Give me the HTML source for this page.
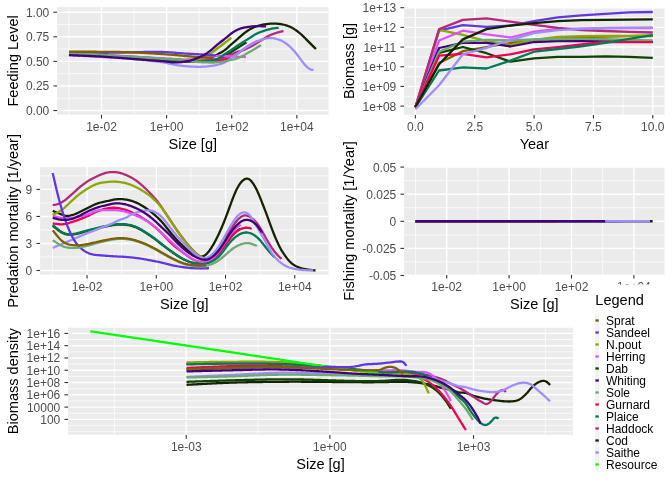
<!DOCTYPE html>
<html><head><meta charset="utf-8"><title>plot</title>
<style>
html,body{margin:0;padding:0;background:#fff;}
svg{display:block;will-change:transform;}
text{font-family:"Liberation Sans",sans-serif;}
.t{font-size:12px;fill:#4d4d4d;}
.a{font-size:14.55px;fill:#000;}
.l{font-size:12px;fill:#000;}
</style></head><body>
<svg width="672" height="480" viewBox="0 0 672 480">
<rect width="672" height="480" fill="#fff"/>
<clipPath id="c1"><rect x="57.1" y="7.1" width="271.4" height="107.6"/></clipPath>
<rect x="57.1" y="7.1" width="271.4" height="107.6" fill="#ebebeb"/>
<g stroke="#fff" fill="none" clip-path="url(#c1)"><path d="M68.93 7.1V114.7" stroke-width="0.71"/><path d="M134.05 7.1V114.7" stroke-width="0.71"/><path d="M199.17 7.1V114.7" stroke-width="0.71"/><path d="M264.29 7.1V114.7" stroke-width="0.71"/><path d="M329.41 7.1V114.7" stroke-width="0.71"/><path d="M57.1 98.25H328.5" stroke-width="0.71"/><path d="M57.1 73.66H328.5" stroke-width="0.71"/><path d="M57.1 49.08H328.5" stroke-width="0.71"/><path d="M57.1 24.49H328.5" stroke-width="0.71"/><path d="M101.49 7.1V114.7" stroke-width="1.42"/><path d="M166.61 7.1V114.7" stroke-width="1.42"/><path d="M231.73 7.1V114.7" stroke-width="1.42"/><path d="M296.85 7.1V114.7" stroke-width="1.42"/><path d="M57.1 110.54H328.5" stroke-width="1.42"/><path d="M57.1 85.96H328.5" stroke-width="1.42"/><path d="M57.1 61.37H328.5" stroke-width="1.42"/><path d="M57.1 36.79H328.5" stroke-width="1.42"/><path d="M57.1 12.2H328.5" stroke-width="1.42"/></g>
<path d="M101.49 114.9v3.67" stroke="#333" stroke-width="1.1"/>
<text x="101.49" y="131" text-anchor="middle" class="t">1e-02</text>
<path d="M166.61 114.9v3.67" stroke="#333" stroke-width="1.1"/>
<text x="166.61" y="131" text-anchor="middle" class="t">1e+00</text>
<path d="M231.73 114.9v3.67" stroke="#333" stroke-width="1.1"/>
<text x="231.73" y="131" text-anchor="middle" class="t">1e+02</text>
<path d="M296.85 114.9v3.67" stroke="#333" stroke-width="1.1"/>
<text x="296.85" y="131" text-anchor="middle" class="t">1e+04</text>
<path d="M57.1 110.54h-3.67" stroke="#333" stroke-width="1.1"/>
<text x="49.25" y="115.04" text-anchor="end" class="t">0.00</text>
<path d="M57.1 85.96h-3.67" stroke="#333" stroke-width="1.1"/>
<text x="49.25" y="90.46" text-anchor="end" class="t">0.25</text>
<path d="M57.1 61.37h-3.67" stroke="#333" stroke-width="1.1"/>
<text x="49.25" y="65.87" text-anchor="end" class="t">0.50</text>
<path d="M57.1 36.79h-3.67" stroke="#333" stroke-width="1.1"/>
<text x="49.25" y="41.29" text-anchor="end" class="t">0.75</text>
<path d="M57.1 12.2h-3.67" stroke="#333" stroke-width="1.1"/>
<text x="49.25" y="16.7" text-anchor="end" class="t">1.00</text>
<text x="192.8" y="149" text-anchor="middle" class="a">Size [g]</text>
<text transform="translate(18 60.9) rotate(-90)" text-anchor="middle" class="a">Feeding Level</text>
<clipPath id="c2"><rect x="404.1" y="7.1" width="260.5" height="107.6"/></clipPath>
<rect x="404.1" y="7.1" width="260.5" height="107.6" fill="#ebebeb"/>
<g stroke="#fff" fill="none" clip-path="url(#c2)"><path d="M445.04 7.1V114.7" stroke-width="0.71"/><path d="M504.4 7.1V114.7" stroke-width="0.71"/><path d="M563.76 7.1V114.7" stroke-width="0.71"/><path d="M623.12 7.1V114.7" stroke-width="0.71"/><path d="M404.1 96.26H664.6" stroke-width="0.71"/><path d="M404.1 76.58H664.6" stroke-width="0.71"/><path d="M404.1 56.9H664.6" stroke-width="0.71"/><path d="M404.1 37.22H664.6" stroke-width="0.71"/><path d="M404.1 17.54H664.6" stroke-width="0.71"/><path d="M415.36 7.1V114.7" stroke-width="1.42"/><path d="M474.72 7.1V114.7" stroke-width="1.42"/><path d="M534.08 7.1V114.7" stroke-width="1.42"/><path d="M593.44 7.1V114.7" stroke-width="1.42"/><path d="M652.8 7.1V114.7" stroke-width="1.42"/><path d="M404.1 106.1H664.6" stroke-width="1.42"/><path d="M404.1 86.42H664.6" stroke-width="1.42"/><path d="M404.1 66.74H664.6" stroke-width="1.42"/><path d="M404.1 47.06H664.6" stroke-width="1.42"/><path d="M404.1 27.38H664.6" stroke-width="1.42"/><path d="M404.1 7.7H664.6" stroke-width="1.42"/></g>
<path d="M415.36 114.9v3.67" stroke="#333" stroke-width="1.1"/>
<text x="415.36" y="131" text-anchor="middle" class="t">0.0</text>
<path d="M474.72 114.9v3.67" stroke="#333" stroke-width="1.1"/>
<text x="474.72" y="131" text-anchor="middle" class="t">2.5</text>
<path d="M534.08 114.9v3.67" stroke="#333" stroke-width="1.1"/>
<text x="534.08" y="131" text-anchor="middle" class="t">5.0</text>
<path d="M593.44 114.9v3.67" stroke="#333" stroke-width="1.1"/>
<text x="593.44" y="131" text-anchor="middle" class="t">7.5</text>
<path d="M652.8 114.9v3.67" stroke="#333" stroke-width="1.1"/>
<text x="652.8" y="131" text-anchor="middle" class="t">10.0</text>
<path d="M404.1 106.1h-3.67" stroke="#333" stroke-width="1.1"/>
<text x="396.25" y="110.6" text-anchor="end" class="t">1e+08</text>
<path d="M404.1 86.42h-3.67" stroke="#333" stroke-width="1.1"/>
<text x="396.25" y="90.92" text-anchor="end" class="t">1e+09</text>
<path d="M404.1 66.74h-3.67" stroke="#333" stroke-width="1.1"/>
<text x="396.25" y="71.24" text-anchor="end" class="t">1e+10</text>
<path d="M404.1 47.06h-3.67" stroke="#333" stroke-width="1.1"/>
<text x="396.25" y="51.56" text-anchor="end" class="t">1e+11</text>
<path d="M404.1 27.38h-3.67" stroke="#333" stroke-width="1.1"/>
<text x="396.25" y="31.88" text-anchor="end" class="t">1e+12</text>
<path d="M404.1 7.7h-3.67" stroke="#333" stroke-width="1.1"/>
<text x="396.25" y="12.2" text-anchor="end" class="t">1e+13</text>
<text x="534.35" y="149" text-anchor="middle" class="a">Year</text>
<text transform="translate(354 60.9) rotate(-90)" text-anchor="middle" class="a">Biomass [g]</text>
<clipPath id="c3"><rect x="40.1" y="167.1" width="288.4" height="107.6"/></clipPath>
<rect x="40.1" y="167.1" width="288.4" height="107.6" fill="#ebebeb"/>
<g stroke="#fff" fill="none" clip-path="url(#c3)"><path d="M52.44 167.1V274.7" stroke-width="0.71"/><path d="M121.68 167.1V274.7" stroke-width="0.71"/><path d="M190.91 167.1V274.7" stroke-width="0.71"/><path d="M260.14 167.1V274.7" stroke-width="0.71"/><path d="M329.38 167.1V274.7" stroke-width="0.71"/><path d="M40.1 256.99H328.5" stroke-width="0.71"/><path d="M40.1 229.95H328.5" stroke-width="0.71"/><path d="M40.1 202.93H328.5" stroke-width="0.71"/><path d="M40.1 175.89H328.5" stroke-width="0.71"/><path d="M87.06 167.1V274.7" stroke-width="1.42"/><path d="M156.29 167.1V274.7" stroke-width="1.42"/><path d="M225.53 167.1V274.7" stroke-width="1.42"/><path d="M294.76 167.1V274.7" stroke-width="1.42"/><path d="M40.1 270.5H328.5" stroke-width="1.42"/><path d="M40.1 243.47H328.5" stroke-width="1.42"/><path d="M40.1 216.44H328.5" stroke-width="1.42"/><path d="M40.1 189.41H328.5" stroke-width="1.42"/></g>
<path d="M87.06 274.9v3.67" stroke="#333" stroke-width="1.1"/>
<text x="87.06" y="291" text-anchor="middle" class="t">1e-02</text>
<path d="M156.29 274.9v3.67" stroke="#333" stroke-width="1.1"/>
<text x="156.29" y="291" text-anchor="middle" class="t">1e+00</text>
<path d="M225.53 274.9v3.67" stroke="#333" stroke-width="1.1"/>
<text x="225.53" y="291" text-anchor="middle" class="t">1e+02</text>
<path d="M294.76 274.9v3.67" stroke="#333" stroke-width="1.1"/>
<text x="294.76" y="291" text-anchor="middle" class="t">1e+04</text>
<path d="M40.1 270.5h-3.67" stroke="#333" stroke-width="1.1"/>
<text x="32.25" y="275" text-anchor="end" class="t">0</text>
<path d="M40.1 243.47h-3.67" stroke="#333" stroke-width="1.1"/>
<text x="32.25" y="247.97" text-anchor="end" class="t">3</text>
<path d="M40.1 216.44h-3.67" stroke="#333" stroke-width="1.1"/>
<text x="32.25" y="220.94" text-anchor="end" class="t">6</text>
<path d="M40.1 189.41h-3.67" stroke="#333" stroke-width="1.1"/>
<text x="32.25" y="193.91" text-anchor="end" class="t">9</text>
<text x="184.3" y="309" text-anchor="middle" class="a">Size [g]</text>
<text transform="translate(18 220.9) rotate(-90)" text-anchor="middle" class="a">Predation mortality [1/year]</text>
<clipPath id="c4"><rect x="404.1" y="167.1" width="260.5" height="107.6"/></clipPath>
<rect x="404.1" y="167.1" width="260.5" height="107.6" fill="#ebebeb"/>
<g stroke="#fff" fill="none" clip-path="url(#c4)"><path d="M415.5 167.1V274.7" stroke-width="0.71"/><path d="M477.9 167.1V274.7" stroke-width="0.71"/><path d="M540.3 167.1V274.7" stroke-width="0.71"/><path d="M602.7 167.1V274.7" stroke-width="0.71"/><path d="M665.1 167.1V274.7" stroke-width="0.71"/><path d="M404.1 261.95H664.6" stroke-width="0.71"/><path d="M404.1 234.85H664.6" stroke-width="0.71"/><path d="M404.1 207.75H664.6" stroke-width="0.71"/><path d="M404.1 180.65H664.6" stroke-width="0.71"/><path d="M446.7 167.1V274.7" stroke-width="1.42"/><path d="M509.1 167.1V274.7" stroke-width="1.42"/><path d="M571.5 167.1V274.7" stroke-width="1.42"/><path d="M633.9 167.1V274.7" stroke-width="1.42"/><path d="M404.1 275.5H664.6" stroke-width="1.42"/><path d="M404.1 248.4H664.6" stroke-width="1.42"/><path d="M404.1 221.3H664.6" stroke-width="1.42"/><path d="M404.1 194.2H664.6" stroke-width="1.42"/><path d="M404.1 167.1H664.6" stroke-width="1.42"/></g>
<path d="M446.7 274.9v3.67" stroke="#333" stroke-width="1.1"/>
<text x="446.7" y="291" text-anchor="middle" class="t">1e-02</text>
<path d="M509.1 274.9v3.67" stroke="#333" stroke-width="1.1"/>
<text x="509.1" y="291" text-anchor="middle" class="t">1e+00</text>
<path d="M571.5 274.9v3.67" stroke="#333" stroke-width="1.1"/>
<text x="571.5" y="291" text-anchor="middle" class="t">1e+02</text>
<path d="M633.9 274.9v3.67" stroke="#333" stroke-width="1.1"/>
<text x="633.9" y="291" text-anchor="middle" class="t">1e+04</text>
<path d="M404.1 275.5h-3.67" stroke="#333" stroke-width="1.1"/>
<text x="396.25" y="280" text-anchor="end" class="t">-0.05</text>
<path d="M404.1 248.4h-3.67" stroke="#333" stroke-width="1.1"/>
<text x="396.25" y="252.9" text-anchor="end" class="t">-0.025</text>
<path d="M404.1 221.3h-3.67" stroke="#333" stroke-width="1.1"/>
<text x="396.25" y="225.8" text-anchor="end" class="t">0</text>
<path d="M404.1 194.2h-3.67" stroke="#333" stroke-width="1.1"/>
<text x="396.25" y="198.7" text-anchor="end" class="t">0.025</text>
<path d="M404.1 167.1h-3.67" stroke="#333" stroke-width="1.1"/>
<text x="396.25" y="171.6" text-anchor="end" class="t">0.05</text>
<text x="534.35" y="309" text-anchor="middle" class="a">Size [g]</text>
<text transform="translate(354 220.9) rotate(-90)" text-anchor="middle" class="a">Fishing mortality [1/Year]</text>
<clipPath id="c5"><rect x="68.1" y="327.7" width="504.8" height="107.2"/></clipPath>
<rect x="68.1" y="327.7" width="504.8" height="107.2" fill="#ebebeb"/>
<g stroke="#fff" fill="none" clip-path="url(#c5)"><path d="M114.41 327.7V434.9" stroke-width="0.71"/><path d="M258.05 327.7V434.9" stroke-width="0.71"/><path d="M401.69 327.7V434.9" stroke-width="0.71"/><path d="M545.33 327.7V434.9" stroke-width="0.71"/><path d="M68.1 431.69H572.9" stroke-width="0.71"/><path d="M68.1 425.54H572.9" stroke-width="0.71"/><path d="M68.1 413.26H572.9" stroke-width="0.71"/><path d="M68.1 400.97H572.9" stroke-width="0.71"/><path d="M68.1 388.69H572.9" stroke-width="0.71"/><path d="M68.1 376.4H572.9" stroke-width="0.71"/><path d="M68.1 364.11H572.9" stroke-width="0.71"/><path d="M68.1 351.83H572.9" stroke-width="0.71"/><path d="M68.1 339.54H572.9" stroke-width="0.71"/><path d="M186.23 327.7V434.9" stroke-width="1.42"/><path d="M329.87 327.7V434.9" stroke-width="1.42"/><path d="M473.51 327.7V434.9" stroke-width="1.42"/><path d="M68.1 419.4H572.9" stroke-width="1.42"/><path d="M68.1 407.12H572.9" stroke-width="1.42"/><path d="M68.1 394.83H572.9" stroke-width="1.42"/><path d="M68.1 382.54H572.9" stroke-width="1.42"/><path d="M68.1 370.26H572.9" stroke-width="1.42"/><path d="M68.1 357.97H572.9" stroke-width="1.42"/><path d="M68.1 345.69H572.9" stroke-width="1.42"/><path d="M68.1 333.4H572.9" stroke-width="1.42"/></g>
<path d="M186.23 435.1v3.67" stroke="#333" stroke-width="1.1"/>
<text x="186.23" y="451" text-anchor="middle" class="t">1e-03</text>
<path d="M329.87 435.1v3.67" stroke="#333" stroke-width="1.1"/>
<text x="329.87" y="451" text-anchor="middle" class="t">1e+00</text>
<path d="M473.51 435.1v3.67" stroke="#333" stroke-width="1.1"/>
<text x="473.51" y="451" text-anchor="middle" class="t">1e+03</text>
<path d="M68.1 419.4h-3.67" stroke="#333" stroke-width="1.1"/>
<text x="60.25" y="423.9" text-anchor="end" class="t">100</text>
<path d="M68.1 407.12h-3.67" stroke="#333" stroke-width="1.1"/>
<text x="60.25" y="411.62" text-anchor="end" class="t">10000</text>
<path d="M68.1 394.83h-3.67" stroke="#333" stroke-width="1.1"/>
<text x="60.25" y="399.33" text-anchor="end" class="t">1e+06</text>
<path d="M68.1 382.54h-3.67" stroke="#333" stroke-width="1.1"/>
<text x="60.25" y="387.04" text-anchor="end" class="t">1e+08</text>
<path d="M68.1 370.26h-3.67" stroke="#333" stroke-width="1.1"/>
<text x="60.25" y="374.76" text-anchor="end" class="t">1e+10</text>
<path d="M68.1 357.97h-3.67" stroke="#333" stroke-width="1.1"/>
<text x="60.25" y="362.47" text-anchor="end" class="t">1e+12</text>
<path d="M68.1 345.69h-3.67" stroke="#333" stroke-width="1.1"/>
<text x="60.25" y="350.19" text-anchor="end" class="t">1e+14</text>
<path d="M68.1 333.4h-3.67" stroke="#333" stroke-width="1.1"/>
<text x="60.25" y="337.9" text-anchor="end" class="t">1e+16</text>
<text x="320.5" y="469" text-anchor="middle" class="a">Size [g]</text>
<text transform="translate(18 381.3) rotate(-90)" text-anchor="middle" class="a">Biomass density</text>
<rect x="589.5" y="284.5" width="82.5" height="195.5" fill="#fff"/>
<text x="595.3" y="305" class="a">Legend</text>
<rect x="595" y="314.5" width="4.2" height="12" fill="#f2f2f2"/>
<path d="M595.4 320.5h3.4" stroke="#815f00" stroke-width="2.28"/>
<text x="606" y="324.8" class="l">Sprat</text>
<rect x="595" y="326.5" width="4.2" height="12" fill="#f2f2f2"/>
<path d="M595.4 332.5h3.4" stroke="#6237e2" stroke-width="2.28"/>
<text x="606" y="336.8" class="l">Sandeel</text>
<rect x="595" y="338.5" width="4.2" height="12" fill="#f2f2f2"/>
<path d="M595.4 344.5h3.4" stroke="#8da600" stroke-width="2.28"/>
<text x="606" y="348.8" class="l">N.pout</text>
<rect x="595" y="350.5" width="4.2" height="12" fill="#f2f2f2"/>
<path d="M595.4 356.5h3.4" stroke="#de53f7" stroke-width="2.28"/>
<text x="606" y="360.8" class="l">Herring</text>
<rect x="595" y="362.5" width="4.2" height="12" fill="#f2f2f2"/>
<path d="M595.4 368.5h3.4" stroke="#0e4300" stroke-width="2.28"/>
<text x="606" y="372.8" class="l">Dab</text>
<rect x="595" y="374.5" width="4.2" height="12" fill="#f2f2f2"/>
<path d="M595.4 380.5h3.4" stroke="#430079" stroke-width="2.28"/>
<text x="606" y="384.8" class="l">Whiting</text>
<rect x="595" y="386.5" width="4.2" height="12" fill="#f2f2f2"/>
<path d="M595.4 392.5h3.4" stroke="#6caa72" stroke-width="2.28"/>
<text x="606" y="396.8" class="l">Sole</text>
<rect x="595" y="398.5" width="4.2" height="12" fill="#f2f2f2"/>
<path d="M595.4 404.5h3.4" stroke="#ee0053" stroke-width="2.28"/>
<text x="606" y="408.8" class="l">Gurnard</text>
<rect x="595" y="410.5" width="4.2" height="12" fill="#f2f2f2"/>
<path d="M595.4 416.5h3.4" stroke="#007957" stroke-width="2.28"/>
<text x="606" y="420.8" class="l">Plaice</text>
<rect x="595" y="422.5" width="4.2" height="12" fill="#f2f2f2"/>
<path d="M595.4 428.5h3.4" stroke="#b42979" stroke-width="2.28"/>
<text x="606" y="432.8" class="l">Haddock</text>
<rect x="595" y="434.5" width="4.2" height="12" fill="#f2f2f2"/>
<path d="M595.4 440.5h3.4" stroke="#142300" stroke-width="2.28"/>
<text x="606" y="444.8" class="l">Cod</text>
<rect x="595" y="446.5" width="4.2" height="12" fill="#f2f2f2"/>
<path d="M595.4 452.5h3.4" stroke="#a08dfb" stroke-width="2.28"/>
<text x="606" y="456.8" class="l">Saithe</text>
<rect x="595" y="458.5" width="4.2" height="12" fill="#f2f2f2"/>
<path d="M595.4 464.5h3.4" stroke="#00ff00" stroke-width="2.28"/>
<text x="606" y="468.8" class="l">Resource</text>
<path d="M69 54.5L70 54.55L71 54.61L72 54.66L73 54.71L74 54.76L75 54.82L76 54.87L77 54.92L78 54.97L79 55.02L80 55.07L81 55.12L82 55.17L83 55.22L84 55.27L85 55.32L86 55.36L87 55.41L88 55.46L89 55.51L90 55.56L91 55.61L92 55.66L93 55.71L94 55.76L95 55.8L96 55.85L97 55.9L98 55.95L99 56L100 56.05L101 56.1L102 56.15L103 56.2L104 56.25L105 56.3L106 56.35L107 56.4L108 56.46L109 56.51L110 56.56L111 56.61L112 56.67L113 56.72L114 56.78L115 56.83L116 56.89L117 56.94L118 57L119 57.06L120 57.11L121 57.17L122 57.23L123 57.29L124 57.35L125 57.41L126 57.48L127 57.54L128 57.6L129 57.67L130 57.73L131 57.8L132 57.86L133 57.93L134 58L135 58.07L136 58.15L137 58.22L138 58.3L139 58.38L140 58.47L141 58.55L142 58.64L143 58.73L144 58.81L145 58.9L146 58.99L147 59.08L148 59.17L149 59.26L150 59.35L151 59.44L152 59.53L153 59.61L154 59.7L155 59.78L156 59.86L157 59.94L158 60.01L159 60.08L160 60.15L161 60.21L162 60.28L163 60.33L164 60.39L165 60.43L166 60.48L167 60.52L168 60.57L169 60.61L170 60.67L171 60.72L172 60.78L173 60.84L174 60.9L175 60.96L176 61.02L177 61.07L178 61.13L179 61.18L180 61.23L181 61.28L182 61.32L183 61.35L184 61.38L185 61.4L186 61.41L187 61.41L188 61.4L189 61.39L190 61.36L191 61.32L192 61.27L193 61.2L194 61.12L195 61.03L196 60.92L197 60.79L198 60.65L199 60.49L200 60.33L201 60.16L202 59.99L203 59.81L204 59.62L205 59.41L206 59.18L207 58.93L208 58.64L209 58.33L210 57.97L211 57.58L212 57.16L213 56.7L214 56.22L215 55.72L216 55.2L217 54.67L218 54.13L219 53.59L220 53.04L221 52.49L222 51.92L223 51.32L224 50.66L225 49.94L226 49.15L227 48.28L228 47.38L229 46.45L230 45.52L231 44.62L232 43.75L233 42.9L234 42.06L235 41.21L236 40.36L237 39.5L238 38.61L239 37.71L240 36.82L241 35.93L242 35.08L243 34.25L244 33.45L245 32.68L246 31.93L247 31.22L248 30.53L249 29.88L250 29.25L251 28.67L252 28.13L253 27.64L254 27.2L255 26.8L256 26.45L257 26.12L258 25.82L259 25.54L260 25.28L261 25.04L262 24.82L263 24.62L264 24.43L265 24.28L266 24.13L267 24.01L268 23.9L269 23.81L270 23.73L271 23.67L272 23.62L273 23.6L274 23.6L275 23.61L276 23.65L277 23.7L278 23.78L279 23.87L280 24L281 24.14L282 24.32L283 24.52L284 24.76L285 25.01L286 25.3L287 25.62L288 25.98L289 26.38L290 26.82L291 27.3L292 27.82L293 28.37L294 28.97L295 29.6L296 30.28L297 31L298 31.76L299 32.56L300 33.39L301 34.26L302 35.16L303 36.1L304 37.06L305 38.06L306 39.08L307 40.11L308 41.13L309 42.15L310 43.16L311 44.17L312 45.17L313 46.16L314 47.12L315 48.07L316 49" stroke="#142300" stroke-width="2.28" fill="none" stroke-linejoin="round" stroke-linecap="butt"/>
<path d="M69 54.5L70 54.55L71 54.59L72 54.64L73 54.68L74 54.72L75 54.77L76 54.81L77 54.85L78 54.89L79 54.93L80 54.98L81 55.02L82 55.06L83 55.1L84 55.14L85 55.18L86 55.22L87 55.26L88 55.3L89 55.34L90 55.38L91 55.41L92 55.45L93 55.49L94 55.53L95 55.57L96 55.61L97 55.65L98 55.69L99 55.73L100 55.77L101 55.81L102 55.85L103 55.9L104 55.94L105 55.98L106 56.02L107 56.06L108 56.11L109 56.15L110 56.2L111 56.24L112 56.29L113 56.33L114 56.38L115 56.43L116 56.48L117 56.53L118 56.58L119 56.63L120 56.68L121 56.73L122 56.78L123 56.84L124 56.89L125 56.95L126 57.01L127 57.06L128 57.12L129 57.18L130 57.24L131 57.31L132 57.37L133 57.43L134 57.5L135 57.57L136 57.64L137 57.71L138 57.78L139 57.86L140 57.94L141 58.01L142 58.09L143 58.17L144 58.25L145 58.34L146 58.42L147 58.5L148 58.58L149 58.67L150 58.75L151 58.83L152 58.92L153 59L154 59.08L155 59.16L156 59.24L157 59.32L158 59.4L159 59.48L160 59.55L161 59.63L162 59.7L163 59.77L164 59.84L165 59.9L166 59.97L167 60.03L168 60.1L169 60.17L170 60.24L171 60.31L172 60.39L173 60.46L174 60.54L175 60.62L176 60.7L177 60.77L178 60.85L179 60.93L180 61L181 61.07L182 61.14L183 61.21L184 61.27L185 61.33L186 61.38L187 61.43L188 61.48L189 61.52L190 61.55L191 61.57L192 61.59L193 61.61L194 61.61L195 61.6L196 61.59L197 61.57L198 61.54L199 61.5L200 61.46L201 61.43L202 61.4L203 61.37L204 61.33L205 61.3L206 61.25L207 61.2L208 61.13L209 61.04L210 60.93L211 60.8L212 60.64L213 60.45L214 60.23L215 59.98L216 59.7L217 59.4L218 59.08L219 58.72L220 58.34L221 57.92L222 57.47L223 56.96L224 56.42L225 55.85L226 55.27L227 54.68L228 54.09L229 53.5L230 52.9L231 52.28L232 51.65L233 51L234 50.34L235 49.67L236 49L237 48.34L238 47.68L239 47.02L240 46.36L241 45.71L242 45.07L243 44.45L244 43.84L245 43.25L246 42.68L246.4 42.4" stroke="#0e4300" stroke-width="2.28" fill="none" stroke-linejoin="round" stroke-linecap="butt"/>
<path d="M69 54.5L70 54.55L71 54.59L72 54.64L73 54.68L74 54.72L75 54.77L76 54.81L77 54.85L78 54.89L79 54.93L80 54.98L81 55.02L82 55.06L83 55.1L84 55.14L85 55.18L86 55.22L87 55.26L88 55.3L89 55.34L90 55.38L91 55.41L92 55.45L93 55.49L94 55.53L95 55.57L96 55.61L97 55.65L98 55.69L99 55.73L100 55.77L101 55.81L102 55.85L103 55.9L104 55.94L105 55.98L106 56.02L107 56.06L108 56.11L109 56.15L110 56.2L111 56.24L112 56.29L113 56.33L114 56.38L115 56.43L116 56.48L117 56.53L118 56.58L119 56.63L120 56.68L121 56.73L122 56.78L123 56.84L124 56.89L125 56.95L126 57.01L127 57.06L128 57.12L129 57.18L130 57.24L131 57.31L132 57.37L133 57.43L134 57.5L135 57.57L136 57.64L137 57.71L138 57.78L139 57.86L140 57.94L141 58.01L142 58.09L143 58.17L144 58.25L145 58.34L146 58.42L147 58.5L148 58.58L149 58.67L150 58.75L151 58.83L152 58.92L153 59L154 59.08L155 59.16L156 59.24L157 59.32L158 59.4L159 59.48L160 59.55L161 59.63L162 59.7L163 59.77L164 59.84L165 59.9L166 59.97L167 60.03L168 60.09L169 60.16L170 60.22L171 60.28L172 60.34L173 60.41L174 60.47L175 60.53L176 60.59L177 60.65L178 60.71L179 60.77L180 60.83L181 60.88L182 60.94L183 60.99L184 61.04L185 61.09L186 61.14L187 61.18L188 61.23L189 61.27L190 61.3L191 61.34L192 61.37L193 61.4L194 61.42L195 61.45L196 61.46L197 61.48L198 61.49L199 61.5L200 61.51L201 61.52L202 61.54L203 61.55L204 61.56L205 61.57L206 61.58L207 61.58L208 61.57L209 61.56L210 61.53L211 61.49L212 61.44L213 61.37L214 61.28L215 61.19L216 61.09L217 60.98L218 60.86L219 60.72L220 60.57L221 60.39L222 60.19L223 59.96L224 59.71L225 59.43L226 59.13L227 58.81L228 58.45L229 58.08L230 57.67L231 57.24L232 56.77L233 56.26L234 55.72L235 55.15L236 54.54L237 53.91L238 53.26L239 52.57L240 51.87L241 51.15L242 50.44L243 49.74L244 49.04L245 48.34L246 47.66L247 46.98L248 46.33L249 45.69L250 45.08L251 44.48L252 43.91L253 43.35L254 42.83L255 42.32L256 41.85L257 41.41L258 41L258.3 40.8" stroke="#ee0053" stroke-width="2.28" fill="none" stroke-linejoin="round" stroke-linecap="butt"/>
<path d="M69 53.4L70 53.44L71 53.47L72 53.5L73 53.53L74 53.56L75 53.59L76 53.62L77 53.65L78 53.68L79 53.7L80 53.73L81 53.76L82 53.78L83 53.81L84 53.84L85 53.87L86 53.89L87 53.93L88 53.96L89 53.99L90 54.03L91 54.06L92 54.1L93 54.14L94 54.19L95 54.23L96 54.28L97 54.33L98 54.39L99 54.44L100 54.5L101 54.57L102 54.64L103 54.71L104 54.79L105 54.87L106 54.95L107 55.04L108 55.12L109 55.21L110 55.3L111 55.38L112 55.46L113 55.55L114 55.62L115 55.7L116 55.77L117 55.84L118 55.9L119 55.96L120 56.02L121 56.08L122 56.14L123 56.19L124 56.25L125 56.3L126 56.36L127 56.41L128 56.46L129 56.52L130 56.57L131 56.63L132 56.68L133 56.74L134 56.8L135 56.86L136 56.92L137 56.98L138 57.04L139 57.11L140 57.17L141 57.23L142 57.29L143 57.35L144 57.42L145 57.48L146 57.54L147 57.61L148 57.67L149 57.74L150 57.8L151 57.87L152 57.94L153 58L154 58.08L155 58.15L156 58.22L157 58.29L158 58.36L159 58.43L160 58.5L161 58.56L162 58.63L163 58.69L164 58.74L165 58.8L166 58.84L167 58.88L168 58.92L169 58.95L170 58.98L171 59.01L172 59.05L173 59.09L174 59.15L175 59.21L176 59.28L177 59.37L178 59.47L179 59.56L180 59.66L181 59.75L182 59.83L183 59.89L184 59.94L185 59.98L186 60L187 60.01L188 60.01L189 60L190 59.99L191 59.97L192 59.94L193 59.92L194 59.89L195 59.87L196 59.84L197 59.82L198 59.81L199 59.81L200 59.81L201 59.82L202 59.84L203 59.86L204 59.89L205 59.91L206 59.92L207 59.92L208 59.92L209 59.89L210 59.85L211 59.79L212 59.72L213 59.64L214 59.55L215 59.45L216 59.34L217 59.21L218 59.06L219 58.88L220 58.68L221 58.44L222 58.17L223 57.87L224 57.52L225 57.15L226 56.75L227 56.33L228 55.91L229 55.47L230 55.03L231 54.59L232 54.15L233 53.69L234 53.24L235 52.8L236 52.38L237 52.01L238 51.68L239 51.39L240 51.13L241 50.86L242 50.57L243 50.22L244 49.84L245 49.41L246 48.95L247 48.48L248 47.99L249 47.5L250 47.01L251 46.5L252 45.96L253 45.4L254 44.8L255 44.18L256 43.56L257 42.94L258 42.33L259 41.73L260 41.14L261 40.55L262 39.96L263 39.34L264 38.71L265 38.07L266 37.43L267 36.81L268 36.24L269 35.72L270 35.24L271 34.79L272 34.38L273 33.99L274 33.63L275 33.3L276 32.98L277 32.69L278 32.41L279 32.15L280 31.9L281 31.67L282 31.44L283 31.21L283.5 31.1" stroke="#b42979" stroke-width="2.28" fill="none" stroke-linejoin="round" stroke-linecap="butt"/>
<path d="M69 53.25L70 53.29L71 53.32L72 53.35L73 53.38L74 53.41L75 53.44L76 53.47L77 53.5L78 53.53L79 53.55L80 53.58L81 53.61L82 53.63L83 53.66L84 53.69L85 53.72L86 53.74L87 53.78L88 53.81L89 53.84L90 53.88L91 53.91L92 53.95L93 53.99L94 54.04L95 54.08L96 54.13L97 54.18L98 54.24L99 54.29L100 54.35L101 54.42L102 54.49L103 54.56L104 54.64L105 54.72L106 54.8L107 54.89L108 54.97L109 55.06L110 55.15L111 55.23L112 55.31L113 55.4L114 55.47L115 55.55L116 55.62L117 55.69L118 55.75L119 55.81L120 55.87L121 55.93L122 55.99L123 56.04L124 56.1L125 56.15L126 56.21L127 56.26L128 56.31L129 56.37L130 56.42L131 56.48L132 56.53L133 56.59L134 56.65L135 56.71L136 56.77L137 56.83L138 56.89L139 56.96L140 57.02L141 57.08L142 57.14L143 57.2L144 57.27L145 57.33L146 57.39L147 57.46L148 57.52L149 57.59L150 57.65L151 57.72L152 57.79L153 57.85L154 57.93L155 58L156 58.07L157 58.14L158 58.21L159 58.28L160 58.35L161 58.41L162 58.48L163 58.54L164 58.59L165 58.65L166 58.69L167 58.73L168 58.77L169 58.8L170 58.83L171 58.86L172 58.9L173 58.94L174 59L175 59.06L176 59.14L177 59.23L178 59.33L179 59.43L180 59.53L181 59.62L182 59.69L183 59.74L184 59.77L185 59.79L186 59.79L187 59.78L188 59.76L189 59.72L190 59.68L191 59.64L192 59.58L193 59.52L194 59.46L195 59.38L196 59.3L197 59.21L198 59.1L199 58.99L200 58.87L201 58.73L202 58.59L203 58.43L204 58.27L205 58.09L206 57.92L207 57.74L208 57.56L209 57.38L210 57.19L211 57L212 56.8L213 56.59L214 56.39L215 56.2L216 56.05L217 55.93L218 55.86L219 55.82L220 55.82L221 55.83L222 55.87L223 55.91L224 55.96L225 56L226 56.05L227 56.1L228 56.15L229 56.22L230 56.28L231 56.35L232 56.42L233 56.48L234 56.54L235 56.6L236 56.64L237 56.69L238 56.73L239 56.77L240 56.8L241 56.84L242 56.87L243 56.9L244 56.94L245 56.97L245.8 57" stroke="#de53f7" stroke-width="2.28" fill="none" stroke-linejoin="round" stroke-linecap="butt"/>
<path d="M69 53.7L70 53.74L71 53.77L72 53.8L73 53.83L74 53.86L75 53.89L76 53.92L77 53.95L78 53.98L79 54L80 54.03L81 54.06L82 54.08L83 54.11L84 54.14L85 54.17L86 54.19L87 54.23L88 54.26L89 54.29L90 54.33L91 54.36L92 54.4L93 54.44L94 54.49L95 54.53L96 54.58L97 54.63L98 54.69L99 54.74L100 54.8L101 54.87L102 54.94L103 55.01L104 55.09L105 55.17L106 55.25L107 55.34L108 55.42L109 55.51L110 55.6L111 55.68L112 55.76L113 55.85L114 55.92L115 56L116 56.07L117 56.14L118 56.2L119 56.26L120 56.32L121 56.38L122 56.44L123 56.49L124 56.55L125 56.6L126 56.66L127 56.71L128 56.76L129 56.82L130 56.87L131 56.93L132 56.98L133 57.04L134 57.1L135 57.16L136 57.22L137 57.28L138 57.34L139 57.41L140 57.47L141 57.53L142 57.59L143 57.65L144 57.72L145 57.78L146 57.84L147 57.91L148 57.97L149 58.04L150 58.1L151 58.17L152 58.24L153 58.3L154 58.38L155 58.45L156 58.52L157 58.59L158 58.66L159 58.73L160 58.8L161 58.86L162 58.93L163 58.99L164 59.04L165 59.1L166 59.14L167 59.18L168 59.22L169 59.25L170 59.28L171 59.31L172 59.35L173 59.39L174 59.45L175 59.51L176 59.58L177 59.67L178 59.76L179 59.85L180 59.95L181 60.04L182 60.13L183 60.21L184 60.29L185 60.37L186 60.45L187 60.52L188 60.57L189 60.59L190 60.58L191 60.54L192 60.48L193 60.4L194 60.29L195 60.14L196 59.96L197 59.74L198 59.46L199 59.14L200 58.77L201 58.36L202 57.93L203 57.47L204 56.99L205 56.5L206 56L207 55.47L208 54.93L209 54.36L210 53.76L211 53.13L212 52.47L213 51.77L214 51.04L215 50.29L216 49.53L217 48.76L218 48.01L219 47.25L220 46.5L221 45.75L222 44.99L223 44.23L224 43.47L225 42.69L226 41.91L227 41.12L228 40.33L229 39.54L230 38.77L231 38.05L231.3 37.7" stroke="#8da600" stroke-width="2.28" fill="none" stroke-linejoin="round" stroke-linecap="butt"/>
<path d="M69 54.5L70 54.55L71 54.59L72 54.64L73 54.68L74 54.72L75 54.77L76 54.81L77 54.85L78 54.89L79 54.93L80 54.98L81 55.02L82 55.06L83 55.1L84 55.14L85 55.18L86 55.22L87 55.26L88 55.3L89 55.34L90 55.38L91 55.41L92 55.45L93 55.49L94 55.53L95 55.57L96 55.61L97 55.65L98 55.69L99 55.73L100 55.77L101 55.81L102 55.85L103 55.9L104 55.94L105 55.98L106 56.02L107 56.06L108 56.11L109 56.15L110 56.2L111 56.24L112 56.29L113 56.33L114 56.38L115 56.43L116 56.48L117 56.53L118 56.58L119 56.63L120 56.68L121 56.73L122 56.78L123 56.84L124 56.89L125 56.95L126 57.01L127 57.06L128 57.12L129 57.18L130 57.24L131 57.31L132 57.37L133 57.43L134 57.5L135 57.57L136 57.64L137 57.71L138 57.79L139 57.86L140 57.94L141 58.02L142 58.1L143 58.19L144 58.27L145 58.36L146 58.44L147 58.53L148 58.61L149 58.7L150 58.78L151 58.87L152 58.95L153 59.04L154 59.12L155 59.2L156 59.28L157 59.36L158 59.44L159 59.51L160 59.59L161 59.66L162 59.73L163 59.79L164 59.85L165 59.91L166 59.97L167 60.02L168 60.07L169 60.12L170 60.17L171 60.21L172 60.26L173 60.3L174 60.35L175 60.4L176 60.46L177 60.51L178 60.57L179 60.64L180 60.7L181 60.77L182 60.83L183 60.9L184 60.96L185 61.03L186 61.09L187 61.15L188 61.2L189 61.25L190 61.3L191 61.35L192 61.39L193 61.44L194 61.48L195 61.52L196 61.55L197 61.58L198 61.59L199 61.59L200 61.59L201 61.57L202 61.55L203 61.52L204 61.47L205 61.41L206 61.34L207 61.26L208 61.17L209 61.07L210 60.94L211 60.79L212 60.6L213 60.37L214 60.1L215 59.79L216 59.44L217 59.05L218 58.62L219 58.13L220 57.58L221 56.95L222 56.25L223 55.51L224 54.76L225 54.04L226 53.36L227 52.71L228 52.09L229 51.47L230 50.83L231 50.18L232 49.49L233 48.78L234 48.06L235 47.34L236 46.64L237 45.95L238 45.29L239 44.64L240 44.01L241 43.38L242 42.76L243 42.13L244 41.51L245 40.88L246 40.25L247 39.62L248 39L249 38.37L250 37.73L251 37.09L252 36.44L253 35.81L254 35.19L255 34.61L256 34.06L257 33.56L258 33.09L259 32.66L260 32.25L261 31.87L262 31.5L263 31.15L264 30.81L265 30.47L266 30.15L267 29.84L268 29.55L269 29.28L270 29.03L271 28.8L272 28.61L273 28.45L274 28.31L275 28.19L276 28.08L277 27.98L278 27.89L278.7 27.8" stroke="#007957" stroke-width="2.28" fill="none" stroke-linejoin="round" stroke-linecap="butt"/>
<path d="M69 55.2L70 55.26L71 55.32L72 55.38L73 55.44L74 55.5L75 55.56L76 55.61L77 55.67L78 55.73L79 55.78L80 55.84L81 55.89L82 55.95L83 56L84 56.05L85 56.11L86 56.16L87 56.21L88 56.27L89 56.32L90 56.37L91 56.43L92 56.48L93 56.53L94 56.59L95 56.64L96 56.69L97 56.75L98 56.8L99 56.85L100 56.91L101 56.96L102 57.02L103 57.07L104 57.13L105 57.19L106 57.24L107 57.3L108 57.36L109 57.42L110 57.48L111 57.54L112 57.6L113 57.66L114 57.72L115 57.79L116 57.85L117 57.91L118 57.98L119 58.05L120 58.12L121 58.19L122 58.26L123 58.33L124 58.4L125 58.47L126 58.55L127 58.63L128 58.7L129 58.78L130 58.86L131 58.95L132 59.03L133 59.11L134 59.2L135 59.29L136 59.37L137 59.46L138 59.55L139 59.63L140 59.72L141 59.81L142 59.9L143 59.99L144 60.08L145 60.18L146 60.28L147 60.38L148 60.48L149 60.59L150 60.7L151 60.81L152 60.93L153 61.04L154 61.15L155 61.27L156 61.39L157 61.51L158 61.64L159 61.77L160 61.91L161 62.05L162 62.2L163 62.36L164 62.53L165 62.71L166 62.9L167 63.11L168 63.33L169 63.55L170 63.78L171 64L172 64.22L173 64.42L174 64.61L175 64.79L176 64.95L177 65.11L178 65.26L179 65.41L180 65.54L181 65.67L182 65.79L183 65.91L184 66.01L185 66.11L186 66.2L187 66.29L188 66.36L189 66.43L190 66.5L191 66.55L192 66.61L193 66.65L194 66.7L195 66.73L196 66.76L197 66.78L198 66.79L199 66.79L200 66.79L201 66.77L202 66.75L203 66.71L204 66.66L205 66.6L206 66.53L207 66.44L208 66.33L209 66.21L210 66.09L211 65.95L212 65.81L213 65.67L214 65.52L215 65.35L216 65.17L217 64.97L218 64.74L219 64.48L220 64.19L221 63.89L222 63.55L223 63.17L224 62.74L225 62.24L226 61.68L227 61.04L228 60.36L229 59.65L230 58.92L231 58.21L232 57.5L233 56.79L234 56.08L235 55.36L236 54.65L237 53.92L238 53.18L239 52.44L240 51.7L241 50.96L242 50.25L243 49.55L244 48.88L245 48.24L246 47.61L247 46.99L248 46.38L249 45.78L250 45.17L251 44.56L252 43.96L253 43.39L254 42.84L255 42.33L256 41.86L257 41.42L258 41.01L259 40.62L260 40.26L261 39.91L262 39.57L263 39.26L264 38.98L265 38.73L266 38.51L267 38.33L268 38.19L269 38.09L270 38.03L271 38.03L272 38.08L273 38.18L274 38.33L275 38.53L276 38.76L277 39.03L278 39.34L279 39.7L280 40.09L281 40.53L282 41.02L283 41.56L284 42.15L285 42.79L286 43.48L287 44.22L288 45.01L289 45.85L290 46.75L291 47.7L292 48.7L293 49.75L294 50.85L295 51.99L296 53.18L297 54.44L298 55.76L299 57.13L300 58.52L301 59.89L302 61.22L303 62.5L304 63.72L305 64.89L306 65.99L307 66.96L308 67.81L309 68.53L310 69.11L311 69.53L312 69.8L313 69.95L313.5 70" stroke="#a08dfb" stroke-width="2.28" fill="none" stroke-linejoin="round" stroke-linecap="butt"/>
<path d="M69 53L70 52.99L71 52.99L72 52.98L73 52.98L74 52.97L75 52.97L76 52.96L77 52.96L78 52.95L79 52.95L80 52.94L81 52.94L82 52.93L83 52.93L84 52.92L85 52.92L86 52.91L87 52.91L88 52.9L89 52.89L90 52.89L91 52.88L92 52.88L93 52.87L94 52.86L95 52.86L96 52.85L97 52.84L98 52.83L99 52.82L100 52.81L101 52.8L102 52.8L103 52.79L104 52.78L105 52.77L106 52.76L107 52.75L108 52.74L109 52.73L110 52.72L111 52.71L112 52.7L113 52.69L114 52.67L115 52.66L116 52.65L117 52.64L118 52.62L119 52.61L120 52.59L121 52.58L122 52.56L123 52.54L124 52.52L125 52.5L126 52.48L127 52.45L128 52.43L129 52.4L130 52.37L131 52.35L132 52.32L133 52.29L134 52.26L135 52.23L136 52.2L137 52.18L138 52.15L139 52.12L140 52.1L141 52.08L142 52.05L143 52.03L144 52.01L145 51.98L146 51.96L147 51.94L148 51.93L149 51.91L150 51.9L151 51.89L152 51.89L153 51.88L154 51.88L155 51.88L156 51.88L157 51.88L158 51.89L159 51.9L160 51.92L161 51.93L162 51.96L163 51.98L164 52.02L165 52.06L166 52.1L167 52.15L168 52.21L169 52.28L170 52.35L171 52.42L172 52.5L173 52.59L174 52.67L175 52.76L176 52.85L177 52.94L178 53.02L179 53.1L180 53.19L181 53.26L182 53.34L183 53.4L184 53.47L185 53.53L186 53.59L187 53.65L188 53.7L189 53.76L190 53.81L191 53.86L192 53.91L193 53.97L194 54.02L195 54.07L196 54.13L197 54.18L198 54.24L199 54.3L200 54.36L201 54.42L202 54.49L203 54.55L204 54.61L205 54.68L206 54.74L207 54.81L208 54.88L209 54.94L210 55.01L211 55.08L212 55.14L213 55.21L214 55.27L215 55.34L215.9 55.4" stroke="#6237e2" stroke-width="2.28" fill="none" stroke-linejoin="round" stroke-linecap="butt"/>
<path d="M69 53.6L70 53.64L71 53.67L72 53.7L73 53.73L74 53.76L75 53.79L76 53.82L77 53.85L78 53.88L79 53.9L80 53.93L81 53.96L82 53.98L83 54.01L84 54.04L85 54.07L86 54.09L87 54.13L88 54.16L89 54.19L90 54.23L91 54.26L92 54.3L93 54.34L94 54.39L95 54.43L96 54.48L97 54.53L98 54.59L99 54.64L100 54.7L101 54.77L102 54.84L103 54.91L104 54.99L105 55.07L106 55.15L107 55.24L108 55.32L109 55.41L110 55.5L111 55.58L112 55.66L113 55.75L114 55.82L115 55.9L116 55.97L117 56.04L118 56.1L119 56.16L120 56.22L121 56.28L122 56.34L123 56.39L124 56.45L125 56.5L126 56.56L127 56.61L128 56.66L129 56.72L130 56.77L131 56.83L132 56.88L133 56.94L134 57L135 57.06L136 57.12L137 57.18L138 57.24L139 57.31L140 57.37L141 57.43L142 57.49L143 57.55L144 57.62L145 57.68L146 57.74L147 57.81L148 57.87L149 57.94L150 58L151 58.07L152 58.14L153 58.2L154 58.28L155 58.35L156 58.42L157 58.49L158 58.56L159 58.63L160 58.7L161 58.76L162 58.83L163 58.89L164 58.94L165 59L166 59.04L167 59.08L168 59.12L169 59.15L170 59.18L171 59.21L172 59.25L173 59.29L174 59.35L175 59.41L176 59.47L177 59.55L178 59.63L179 59.71L180 59.8L181 59.9L182 60.01L183 60.12L184 60.25L185 60.39L186 60.54L187 60.69L188 60.85L189 61L190 61.15L191 61.29L192 61.42L193 61.53L194 61.64L195 61.75L196 61.84L197 61.93L198 62.02L199 62.09L200 62.16L201 62.23L202 62.28L203 62.33L204 62.37L205 62.41L206 62.44L207 62.46L208 62.48L209 62.49L210 62.5L211 62.51L212 62.51L213 62.51L214 62.5L215 62.48L216 62.45L217 62.4L218 62.34L219 62.25L220 62.14L221 62.02L222 61.89L223 61.74L224 61.57L225 61.39L226 61.19L227 60.97L228 60.74L229 60.5L230 60.25L231 60L232 59.76L233 59.52L234 59.28L235 59.03L236 58.75L237 58.43L238 58.07L239 57.66L240 57.22L241 56.74L242 56.22L243 55.69L244 55.14L245 54.57L246 54L247 53.43L248 52.86L249 52.29L250 51.72L251 51.15L252 50.57L253 49.98L254 49.39L255 48.79L256 48.19L257 47.58L258 46.96L259 46.34L260 45.72L261 45.1" stroke="#6caa72" stroke-width="2.28" fill="none" stroke-linejoin="round" stroke-linecap="butt"/>
<path d="M69 51.7L70 51.7L71 51.71L72 51.71L73 51.71L74 51.71L75 51.71L76 51.72L77 51.72L78 51.72L79 51.72L80 51.72L81 51.72L82 51.72L83 51.73L84 51.73L85 51.73L86 51.73L87 51.73L88 51.74L89 51.74L90 51.74L91 51.74L92 51.75L93 51.75L94 51.76L95 51.76L96 51.76L97 51.77L98 51.78L99 51.78L100 51.79L101 51.8L102 51.8L103 51.81L104 51.82L105 51.82L106 51.83L107 51.84L108 51.84L109 51.85L110 51.86L111 51.86L112 51.87L113 51.88L114 51.89L115 51.91L116 51.92L117 51.94L118 51.96L119 51.98L120 52L121 52.03L122 52.06L123 52.09L124 52.12L125 52.15L126 52.18L127 52.22L128 52.26L129 52.3L130 52.34L131 52.38L132 52.42L133 52.46L134 52.5L135 52.54L136 52.59L137 52.63L138 52.68L139 52.72L140 52.77L141 52.82L142 52.87L143 52.92L144 52.97L145 53.02L146 53.08L147 53.13L148 53.19L149 53.24L150 53.3L151 53.36L152 53.42L153 53.48L154 53.55L155 53.61L156 53.68L157 53.75L158 53.82L159 53.88L160 53.95L161 54.02L162 54.09L163 54.16L164 54.23L165 54.3L166 54.37L167 54.43L168 54.5L169 54.56L170 54.63L171 54.7L172 54.77L173 54.84L174 54.92L175 55L176 55.1L177 55.19L178 55.29L179 55.4L180 55.5L181 55.61L182 55.71L183 55.81L184 55.9L185 55.99L186 56.08L187 56.17L188 56.26L189 56.34L190 56.43L191 56.51L192 56.59L193 56.67L194 56.74L195 56.82L196 56.89L197 56.96L198 57.03L199 57.1L200 57.16L201 57.23L202 57.29L203 57.34L204 57.4L205 57.45L206 57.5L207 57.56L208 57.61L209 57.66L210 57.71L211 57.76L212 57.81L213 57.86L213.7 57.9" stroke="#815f00" stroke-width="2.28" fill="none" stroke-linejoin="round" stroke-linecap="butt"/>
<path d="M69 55.1L70 55.15L71 55.19L72 55.23L73 55.28L74 55.32L75 55.36L76 55.4L77 55.45L78 55.49L79 55.53L80 55.57L81 55.61L82 55.65L83 55.69L84 55.74L85 55.78L86 55.82L87 55.86L88 55.91L89 55.95L90 56L91 56.04L92 56.09L93 56.14L94 56.19L95 56.24L96 56.29L97 56.34L98 56.4L99 56.45L100 56.51L101 56.57L102 56.63L103 56.69L104 56.76L105 56.82L106 56.89L107 56.96L108 57.03L109 57.1L110 57.17L111 57.24L112 57.31L113 57.38L114 57.45L115 57.53L116 57.6L117 57.68L118 57.75L119 57.83L120 57.9L121 57.98L122 58.05L123 58.13L124 58.21L125 58.28L126 58.36L127 58.44L128 58.52L129 58.6L130 58.68L131 58.76L132 58.84L133 58.92L134 59L135 59.08L136 59.16L137 59.24L138 59.33L139 59.41L140 59.49L141 59.57L142 59.66L143 59.74L144 59.82L145 59.9L146 59.98L147 60.06L148 60.14L149 60.22L150 60.3L151 60.37L152 60.44L153 60.51L154 60.58L155 60.65L156 60.71L157 60.78L158 60.85L159 60.91L160 60.99L161 61.06L162 61.14L163 61.22L164 61.31L165 61.41L166 61.52L167 61.64L168 61.78L169 61.91L170 62.04L171 62.16L172 62.26L173 62.34L174 62.38L175 62.4L176 62.4L177 62.38L178 62.34L179 62.28L180 62.2L181 62.11L182 62L183 61.88L184 61.74L185 61.59L186 61.42L187 61.24L188 61.04L189 60.82L190 60.58L191 60.31L192 60.02L193 59.71L194 59.37L195 59.01L196 58.64L197 58.24L198 57.82L199 57.39L200 56.95L201 56.49L202 56.01L203 55.51L204 54.97L205 54.39L206 53.76L207 53.09L208 52.38L209 51.65L210 50.88L211 50.1L212 49.29L213 48.46L214 47.6L215 46.72L216 45.84L217 44.97L218 44.12L219 43.3L220 42.51L221 41.75L222 40.99L223 40.23L224 39.47L225 38.67L226 37.85L227 37.01L228 36.15L229 35.3L230 34.48L231 33.71L232 32.98L233 32.3L234 31.66L235 31.06L236 30.5L237 29.99L238 29.51L239 29.09L240 28.72L241 28.39L242 28.11L243 27.87L244 27.65L245 27.46L246 27.28L247 27.11L248 26.95L249 26.8L250 26.67L251 26.56L252 26.47L253 26.39L254 26.32L255 26.26L256 26.22L257 26.19L258 26.18L259 26.18L260 26.2L261 26.22L262 26.26L263 26.3L264 26.33L265 26.36L266 26.39L266.1 26.4" stroke="#430079" stroke-width="2.28" fill="none" stroke-linejoin="round" stroke-linecap="butt"/>
<path d="M415.36 107.3L439.1 63L462.85 51.2L486.59 47L510.34 43L534.08 40L557.82 38L581.57 37L605.31 36.5L629.06 36.2L652.8 36" stroke="#815f00" stroke-width="2.28" fill="none" stroke-linejoin="round" stroke-linecap="butt"/>
<path d="M415.36 107.3L439.1 30.7L462.85 25.2L486.59 26.8L510.34 25.6L534.08 21.2L557.82 17.4L581.57 15.3L605.31 13.9L629.06 12.4L652.8 12" stroke="#6237e2" stroke-width="2.28" fill="none" stroke-linejoin="round" stroke-linecap="butt"/>
<path d="M415.36 107.3L439.1 29.8L462.85 34.8L486.59 41.2L510.34 45L534.08 39.8L557.82 36.8L581.57 36.1L605.31 36L629.06 35.8L652.8 35.5" stroke="#8da600" stroke-width="2.28" fill="none" stroke-linejoin="round" stroke-linecap="butt"/>
<path d="M415.36 107.3L439.1 40.5L462.85 30.7L486.59 34.4L510.34 37.5L534.08 31.6L557.82 29L581.57 28.6L605.31 28.2L629.06 28L652.8 28" stroke="#de53f7" stroke-width="2.28" fill="none" stroke-linejoin="round" stroke-linecap="butt"/>
<path d="M415.36 107.3L439.1 52.9L462.85 47L486.59 53.2L510.34 61.6L534.08 58.4L557.82 56.9L581.57 56.8L605.31 56.3L629.06 56.8L652.8 57.8" stroke="#0e4300" stroke-width="2.28" fill="none" stroke-linejoin="round" stroke-linecap="butt"/>
<path d="M415.36 107.3L439.1 48L462.85 42.8L486.59 42.8L510.34 46.5L534.08 42L557.82 41L581.57 41.1L605.31 41.5L629.06 41.5L652.8 41.8" stroke="#430079" stroke-width="2.28" fill="none" stroke-linejoin="round" stroke-linecap="butt"/>
<path d="M415.36 107.3L439.1 51.7L462.85 41.7L486.59 39.9L510.34 40.5L534.08 39.5L557.82 39L581.57 38.9L605.31 39.2L629.06 40L652.8 40.4" stroke="#6caa72" stroke-width="2.28" fill="none" stroke-linejoin="round" stroke-linecap="butt"/>
<path d="M415.36 107.3L439.1 55.7L462.85 53.9L486.59 57.3L510.34 54.3L534.08 49.4L557.82 47.2L581.57 44.5L605.31 41.9L629.06 42.2L652.8 42.2" stroke="#ee0053" stroke-width="2.28" fill="none" stroke-linejoin="round" stroke-linecap="butt"/>
<path d="M415.36 107.3L439.1 70.5L462.85 67.4L486.59 68.5L510.34 60.6L534.08 51.7L557.82 49L581.57 46.3L605.31 42.8L629.06 38.9L652.8 35.2" stroke="#007957" stroke-width="2.28" fill="none" stroke-linejoin="round" stroke-linecap="butt"/>
<path d="M415.36 107.3L439.1 29.1L462.85 19.9L486.59 18.3L510.34 21.6L534.08 24.9L557.82 27.9L581.57 30.2L605.31 31L629.06 31.8L652.8 32.5" stroke="#b42979" stroke-width="2.28" fill="none" stroke-linejoin="round" stroke-linecap="butt"/>
<path d="M415.36 107.3L439.1 64.3L462.85 39.4L486.59 29.1L510.34 25.6L534.08 23.1L557.82 21.2L581.57 20.2L605.31 19.9L629.06 19.6L652.8 19.4" stroke="#142300" stroke-width="2.28" fill="none" stroke-linejoin="round" stroke-linecap="butt"/>
<path d="M415.36 109.3L439.1 85.2L462.85 54.3L486.59 47.9L510.34 39.8L534.08 33.1L557.82 30.1L581.57 28.8L605.31 28L629.06 27.8L652.8 27.6" stroke="#a08dfb" stroke-width="2.28" fill="none" stroke-linejoin="round" stroke-linecap="butt"/>
<path d="M52.7 210.9L53.7 211.3L54.7 211.71L55.7 212.11L56.7 212.51L57.7 212.91L58.7 213.3L59.7 213.7L60.7 214.1L61.7 214.5L62.7 214.9L63.7 215.26L64.7 215.56L65.7 215.78L66.7 215.89L67.7 215.91L68.7 215.83L69.7 215.68L70.7 215.47L71.7 215.22L72.7 214.93L73.7 214.6L74.7 214.24L75.7 213.83L76.7 213.4L77.7 212.94L78.7 212.48L79.7 212.01L80.7 211.52L81.7 211.04L82.7 210.54L83.7 210.03L84.7 209.52L85.7 209.01L86.7 208.5L87.7 208L88.7 207.5L89.7 206.99L90.7 206.49L91.7 205.99L92.7 205.5L93.7 205.02L94.7 204.57L95.7 204.14L96.7 203.74L97.7 203.38L98.7 203.06L99.7 202.77L100.7 202.51L101.7 202.27L102.7 202.05L103.7 201.85L104.7 201.64L105.7 201.44L106.7 201.23L107.7 201.01L108.7 200.77L109.7 200.53L110.7 200.29L111.7 200.06L112.7 199.84L113.7 199.65L114.7 199.49L115.7 199.36L116.7 199.26L117.7 199.19L118.7 199.15L119.7 199.13L120.7 199.13L121.7 199.17L122.7 199.22L123.7 199.3L124.7 199.41L125.7 199.54L126.7 199.7L127.7 199.89L128.7 200.11L129.7 200.35L130.7 200.62L131.7 200.93L132.7 201.26L133.7 201.62L134.7 202L135.7 202.42L136.7 202.86L137.7 203.32L138.7 203.82L139.7 204.34L140.7 204.89L141.7 205.47L142.7 206.06L143.7 206.69L144.7 207.33L145.7 208L146.7 208.69L147.7 209.4L148.7 210.13L149.7 210.89L150.7 211.67L151.7 212.47L152.7 213.29L153.7 214.12L154.7 214.98L155.7 215.85L156.7 216.74L157.7 217.66L158.7 218.61L159.7 219.59L160.7 220.62L161.7 221.68L162.7 222.8L163.7 223.97L164.7 225.18L165.7 226.43L166.7 227.71L167.7 228.98L168.7 230.25L169.7 231.5L170.7 232.73L171.7 233.93L172.7 235.13L173.7 236.3L174.7 237.46L175.7 238.59L176.7 239.7L177.7 240.77L178.7 241.82L179.7 242.84L180.7 243.83L181.7 244.8L182.7 245.74L183.7 246.67L184.7 247.57L185.7 248.44L186.7 249.29L187.7 250.12L188.7 250.9L189.7 251.64L190.7 252.35L191.7 253L192.7 253.62L193.7 254.18L194.7 254.7L195.7 255.17L196.7 255.59L197.7 255.95L198.7 256.25L199.7 256.45L200.7 256.54L201.7 256.49L202.7 256.3L203.7 255.95L204.7 255.42L205.7 254.7L206.7 253.8L207.7 252.72L208.7 251.51L209.7 250.19L210.7 248.76L211.7 247.25L212.7 245.63L213.7 243.93L214.7 242.14L215.7 240.27L216.7 238.31L217.7 236.28L218.7 234.18L219.7 232.02L220.7 229.8L221.7 227.5L222.7 225.14L223.7 222.7L224.7 220.19L225.7 217.61L226.7 214.96L227.7 212.25L228.7 209.51L229.7 206.76L230.7 204.04L231.7 201.35L232.7 198.72L233.7 196.17L234.7 193.73L235.7 191.44L236.7 189.34L237.7 187.43L238.7 185.71L239.7 184.16L240.7 182.79L241.7 181.6L242.7 180.6L243.7 179.79L244.7 179.19L245.7 178.81L246.7 178.65L247.7 178.72L248.7 179.04L249.7 179.64L250.7 180.51L251.7 181.63L252.7 182.95L253.7 184.44L254.7 186.08L255.7 187.86L256.7 189.81L257.7 191.92L258.7 194.19L259.7 196.6L260.7 199.11L261.7 201.66L262.7 204.22L263.7 206.77L264.7 209.33L265.7 211.92L266.7 214.58L267.7 217.31L268.7 220.08L269.7 222.86L270.7 225.61L271.7 228.31L272.7 230.95L273.7 233.5L274.7 235.97L275.7 238.34L276.7 240.63L277.7 242.83L278.7 244.94L279.7 246.94L280.7 248.82L281.7 250.57L282.7 252.19L283.7 253.71L284.7 255.15L285.7 256.56L286.7 257.91L287.7 259.19L288.7 260.38L289.7 261.45L290.7 262.41L291.7 263.28L292.7 264.06L293.7 264.76L294.7 265.39L295.7 265.96L296.7 266.46L297.7 266.92L298.7 267.32L299.7 267.67L300.7 267.98L301.7 268.27L302.7 268.53L303.7 268.77L304.7 269L305.7 269.21L306.7 269.39L307.7 269.56L308.7 269.72L309.7 269.86L310.7 269.98L311.7 270.09L312.7 270.18L313.7 270.27L314.7 270.36L315.6 270.45" stroke="#142300" stroke-width="2.28" fill="none" stroke-linejoin="round" stroke-linecap="butt"/>
<path d="M52.7 225.8L53.7 226.58L54.7 227.37L55.7 228.17L56.7 228.97L57.7 229.76L58.7 230.52L59.7 231.24L60.7 231.91L61.7 232.49L62.7 233.01L63.7 233.44L64.7 233.81L65.7 234.11L66.7 234.35L67.7 234.53L68.7 234.65L69.7 234.71L70.7 234.7L71.7 234.64L72.7 234.53L73.7 234.39L74.7 234.23L75.7 234.05L76.7 233.85L77.7 233.62L78.7 233.38L79.7 233.11L80.7 232.84L81.7 232.56L82.7 232.27L83.7 231.98L84.7 231.7L85.7 231.42L86.7 231.15L87.7 230.9L88.7 230.64L89.7 230.39L90.7 230.15L91.7 229.9L92.7 229.66L93.7 229.42L94.7 229.18L95.7 228.94L96.7 228.69L97.7 228.45L98.7 228.21L99.7 227.97L100.7 227.72L101.7 227.48L102.7 227.23L103.7 226.98L104.7 226.74L105.7 226.51L106.7 226.28L107.7 226.08L108.7 225.88L109.7 225.69L110.7 225.52L111.7 225.36L112.7 225.21L113.7 225.07L114.7 224.95L115.7 224.84L116.7 224.74L117.7 224.66L118.7 224.59L119.7 224.54L120.7 224.52L121.7 224.52L122.7 224.54L123.7 224.6L124.7 224.68L125.7 224.78L126.7 224.91L127.7 225.07L128.7 225.25L129.7 225.46L130.7 225.7L131.7 225.96L132.7 226.25L133.7 226.56L134.7 226.91L135.7 227.29L136.7 227.7L137.7 228.14L138.7 228.63L139.7 229.15L140.7 229.71L141.7 230.29L142.7 230.89L143.7 231.5L144.7 232.12L145.7 232.75L146.7 233.39L147.7 234.04L148.7 234.7L149.7 235.37L150.7 236.06L151.7 236.75L152.7 237.46L153.7 238.18L154.7 238.92L155.7 239.67L156.7 240.43L157.7 241.2L158.7 241.98L159.7 242.75L160.7 243.53L161.7 244.31L162.7 245.08L163.7 245.84L164.7 246.61L165.7 247.37L166.7 248.12L167.7 248.88L168.7 249.63L169.7 250.38L170.7 251.11L171.7 251.84L172.7 252.55L173.7 253.24L174.7 253.93L175.7 254.61L176.7 255.27L177.7 255.92L178.7 256.56L179.7 257.17L180.7 257.75L181.7 258.32L182.7 258.86L183.7 259.37L184.7 259.87L185.7 260.34L186.7 260.79L187.7 261.21L188.7 261.59L189.7 261.94L190.7 262.25L191.7 262.53L192.7 262.76L193.7 262.97L194.7 263.14L195.7 263.28L196.7 263.38L197.7 263.46L198.7 263.51L199.7 263.53L200.7 263.52L201.7 263.47L202.7 263.37L203.7 263.21L204.7 262.99L205.7 262.71L206.7 262.35L207.7 261.94L208.7 261.46L209.7 260.92L210.7 260.31L211.7 259.64L212.7 258.91L213.7 258.11L214.7 257.26L215.7 256.33L216.7 255.35L217.7 254.29L218.7 253.17L219.7 251.97L220.7 250.71L221.7 249.39L222.7 248.03L223.7 246.65L224.7 245.26L225.7 243.86L226.7 242.47L227.7 241.09L228.7 239.75L229.7 238.44L230.7 237.18L231.7 235.97L232.7 234.84L233.7 233.78L234.7 232.8L235.7 231.91L236.7 231.11L237.7 230.41L238.7 229.81L239.7 229.28L240.6 228.8" stroke="#0e4300" stroke-width="2.28" fill="none" stroke-linejoin="round" stroke-linecap="butt"/>
<path d="M52.7 223.5L53.7 223.61L54.7 223.72L55.7 223.84L56.7 223.97L57.7 224.08L58.7 224.18L59.7 224.26L60.7 224.3L61.7 224.3L62.7 224.25L63.7 224.15L64.7 224L65.7 223.81L66.7 223.59L67.7 223.33L68.7 223.06L69.7 222.76L70.7 222.46L71.7 222.15L72.7 221.83L73.7 221.5L74.7 221.16L75.7 220.81L76.7 220.46L77.7 220.09L78.7 219.72L79.7 219.34L80.7 218.96L81.7 218.57L82.7 218.18L83.7 217.79L84.7 217.38L85.7 216.96L86.7 216.53L87.7 216.08L88.7 215.6L89.7 215.11L90.7 214.59L91.7 214.07L92.7 213.54L93.7 213.02L94.7 212.51L95.7 212.03L96.7 211.58L97.7 211.16L98.7 210.77L99.7 210.41L100.7 210.07L101.7 209.75L102.7 209.46L103.7 209.19L104.7 208.93L105.7 208.71L106.7 208.5L107.7 208.31L108.7 208.15L109.7 208.01L110.7 207.89L111.7 207.8L112.7 207.75L113.7 207.73L114.7 207.76L115.7 207.82L116.7 207.91L117.7 208.04L118.7 208.2L119.7 208.38L120.7 208.58L121.7 208.81L122.7 209.05L123.7 209.32L124.7 209.61L125.7 209.92L126.7 210.25L127.7 210.6L128.7 210.98L129.7 211.38L130.7 211.8L131.7 212.25L132.7 212.71L133.7 213.19L134.7 213.69L135.7 214.2L136.7 214.72L137.7 215.25L138.7 215.79L139.7 216.35L140.7 216.92L141.7 217.51L142.7 218.12L143.7 218.74L144.7 219.39L145.7 220.05L146.7 220.74L147.7 221.44L148.7 222.16L149.7 222.9L150.7 223.66L151.7 224.43L152.7 225.23L153.7 226.04L154.7 226.87L155.7 227.72L156.7 228.59L157.7 229.48L158.7 230.39L159.7 231.32L160.7 232.27L161.7 233.25L162.7 234.25L163.7 235.28L164.7 236.34L165.7 237.42L166.7 238.5L167.7 239.58L168.7 240.63L169.7 241.66L170.7 242.64L171.7 243.6L172.7 244.53L173.7 245.43L174.7 246.29L175.7 247.1L176.7 247.87L177.7 248.6L178.7 249.31L179.7 250.03L180.7 250.76L181.7 251.52L182.7 252.3L183.7 253.08L184.7 253.87L185.7 254.63L186.7 255.38L187.7 256.1L188.7 256.8L189.7 257.49L190.7 258.14L191.7 258.76L192.7 259.33L193.7 259.84L194.7 260.3L195.7 260.69L196.7 261.04L197.7 261.33L198.7 261.57L199.7 261.76L200.7 261.9L201.7 262L202.7 262.04L203.7 262.03L204.7 261.96L205.7 261.84L206.7 261.66L207.7 261.41L208.7 261.09L209.7 260.69L210.7 260.2L211.7 259.63L212.7 258.99L213.7 258.26L214.7 257.45L215.7 256.57L216.7 255.61L217.7 254.57L218.7 253.47L219.7 252.29L220.7 251.05L221.7 249.75L222.7 248.41L223.7 247.04L224.7 245.66L225.7 244.26L226.7 242.87L227.7 241.5L228.7 240.16L229.7 238.87L230.7 237.63L231.7 236.45L232.7 235.32L233.7 234.26L234.7 233.28L235.7 232.37L236.7 231.53L237.7 230.79L238.7 230.13L239.7 229.56L240.7 229.07L241.7 228.66L242.7 228.32L243.7 228.05L244.7 227.85L245.7 227.74L246.7 227.71L247.7 227.79L248.7 227.96L249.7 228.2L250.7 228.49L251.7 228.8" stroke="#ee0053" stroke-width="2.28" fill="none" stroke-linejoin="round" stroke-linecap="butt"/>
<path d="M52.7 205.1L53.7 204.98L54.7 204.85L55.7 204.69L56.7 204.47L57.7 204.17L58.7 203.8L59.7 203.36L60.7 202.86L61.7 202.31L62.7 201.71L63.7 201.06L64.7 200.36L65.7 199.6L66.7 198.8L67.7 197.97L68.7 197.11L69.7 196.23L70.7 195.34L71.7 194.45L72.7 193.56L73.7 192.65L74.7 191.73L75.7 190.8L76.7 189.87L77.7 188.96L78.7 188.06L79.7 187.2L80.7 186.36L81.7 185.56L82.7 184.78L83.7 184.03L84.7 183.3L85.7 182.59L86.7 181.91L87.7 181.26L88.7 180.64L89.7 180.04L90.7 179.47L91.7 178.93L92.7 178.4L93.7 177.9L94.7 177.41L95.7 176.93L96.7 176.47L97.7 176.02L98.7 175.57L99.7 175.13L100.7 174.7L101.7 174.29L102.7 173.9L103.7 173.54L104.7 173.22L105.7 172.94L106.7 172.7L107.7 172.5L108.7 172.33L109.7 172.2L110.7 172.11L111.7 172.05L112.7 172.03L113.7 172.05L114.7 172.1L115.7 172.18L116.7 172.31L117.7 172.46L118.7 172.65L119.7 172.88L120.7 173.13L121.7 173.41L122.7 173.73L123.7 174.08L124.7 174.45L125.7 174.86L126.7 175.29L127.7 175.75L128.7 176.22L129.7 176.72L130.7 177.24L131.7 177.79L132.7 178.36L133.7 178.96L134.7 179.59L135.7 180.27L136.7 180.98L137.7 181.73L138.7 182.52L139.7 183.34L140.7 184.19L141.7 185.06L142.7 185.96L143.7 186.88L144.7 187.81L145.7 188.76L146.7 189.73L147.7 190.73L148.7 191.74L149.7 192.78L150.7 193.83L151.7 194.9L152.7 195.98L153.7 197.08L154.7 198.2L155.7 199.36L156.7 200.56L157.7 201.81L158.7 203.12L159.7 204.48L160.7 205.89L161.7 207.34L162.7 208.81L163.7 210.29L164.7 211.78L165.7 213.29L166.7 214.8L167.7 216.32L168.7 217.83L169.7 219.35L170.7 220.86L171.7 222.37L172.7 223.88L173.7 225.39L174.7 226.89L175.7 228.36L176.7 229.82L177.7 231.25L178.7 232.65L179.7 234.03L180.7 235.38L181.7 236.71L182.7 238.03L183.7 239.32L184.7 240.6L185.7 241.86L186.7 243.1L187.7 244.32L188.7 245.52L189.7 246.7L190.7 247.85L191.7 248.98L192.7 250.07L193.7 251.13L194.7 252.12L195.7 253.03L196.7 253.87L197.7 254.64L198.7 255.36L199.7 256.03L200.7 256.66L201.7 257.24L202.7 257.75L203.7 258.18L204.7 258.51L205.7 258.73L206.7 258.81L207.7 258.74L208.7 258.51L209.7 258.13L210.7 257.59L211.7 256.9L212.7 256.06L213.7 255.11L214.7 254.05L215.7 252.89L216.7 251.64L217.7 250.3L218.7 248.89L219.7 247.41L220.7 245.87L221.7 244.27L222.7 242.63L223.7 240.96L224.7 239.27L225.7 237.57L226.7 235.88L227.7 234.21L228.7 232.59L229.7 231.01L230.7 229.48L231.7 227.97L232.7 226.49L233.7 225.03L234.7 223.6L235.7 222.23L236.7 220.95L237.7 219.79L238.7 218.76L239.7 217.85L240.7 217.08L241.7 216.45L242.7 215.97L243.7 215.64L244.7 215.46L245.7 215.44L246.7 215.57L247.7 215.85L248.7 216.28L249.7 216.83L250.7 217.46L251.7 218.15L252.7 218.91L253.7 219.74L254.7 220.68L255.7 221.74L256.7 222.93L257.7 224.24L258.7 225.67L259.7 227.21L260.7 228.84L261.7 230.55L262.7 232.31L263.7 234.1L264.7 235.91L265.7 237.71L266.7 239.47L267.7 241.18L268.7 242.85L269.7 244.47L270.7 246.05L271.7 247.57L272.7 249.03L273.7 250.4L274.7 251.7L275.7 252.91L276.7 254.07L277.7 255.18L278.7 256.25L279.7 257.25L280.7 258.16L281.25 259" stroke="#b42979" stroke-width="2.28" fill="none" stroke-linejoin="round" stroke-linecap="butt"/>
<path d="M52.7 215.9L53.7 216.15L54.7 216.4L55.7 216.66L56.7 216.92L57.7 217.18L58.7 217.42L59.7 217.64L60.7 217.84L61.7 218L62.7 218.13L63.7 218.22L64.7 218.27L65.7 218.3L66.7 218.29L67.7 218.26L68.7 218.21L69.7 218.13L70.7 218.04L71.7 217.93L72.7 217.81L73.7 217.68L74.7 217.54L75.7 217.39L76.7 217.22L77.7 217.04L78.7 216.84L79.7 216.63L80.7 216.4L81.7 216.16L82.7 215.91L83.7 215.64L84.7 215.35L85.7 215.05L86.7 214.73L87.7 214.39L88.7 214.01L89.7 213.61L90.7 213.18L91.7 212.73L92.7 212.28L93.7 211.85L94.7 211.45L95.7 211.09L96.7 210.79L97.7 210.55L98.7 210.37L99.7 210.25L100.7 210.17L101.7 210.14L102.7 210.13L103.7 210.14L104.7 210.16L105.7 210.18L106.7 210.18L107.7 210.18L108.7 210.16L109.7 210.13L110.7 210.11L111.7 210.09L112.7 210.08L113.7 210.09L114.7 210.11L115.7 210.16L116.7 210.22L117.7 210.3L118.7 210.4L119.7 210.51L120.7 210.66L121.7 210.82L122.7 211.02L123.7 211.25L124.7 211.5L125.7 211.78L126.7 212.08L127.7 212.4L128.7 212.73L129.7 213.08L130.7 213.44L131.7 213.82L132.7 214.21L133.7 214.61L134.7 215.03L135.7 215.46L136.7 215.9L137.7 216.35L138.7 216.82L139.7 217.29L140.7 217.78L141.7 218.27L142.7 218.79L143.7 219.31L144.7 219.85L145.7 220.4L146.7 220.96L147.7 221.54L148.7 222.14L149.7 222.76L150.7 223.43L151.7 224.14L152.7 224.9L153.7 225.7L154.7 226.54L155.7 227.42L156.7 228.33L157.7 229.26L158.7 230.19L159.7 231.13L160.7 232.07L161.7 233L162.7 233.92L163.7 234.84L164.7 235.76L165.7 236.68L166.7 237.6L167.7 238.52L168.7 239.44L169.7 240.36L170.7 241.28L171.7 242.2L172.7 243.12L173.7 244.03L174.7 244.94L175.7 245.85L176.7 246.76L177.7 247.66L178.7 248.55L179.7 249.43L180.7 250.29L181.7 251.15L182.7 251.99L183.7 252.82L184.7 253.63L185.7 254.41L186.7 255.17L187.7 255.91L188.7 256.62L189.7 257.3L190.7 257.95L191.7 258.57L192.7 259.13L193.7 259.64L194.7 260.09L195.7 260.49L196.7 260.83L197.7 261.12L198.7 261.37L199.7 261.58L200.7 261.75L201.7 261.89L202.7 261.97L203.7 261.99L204.7 261.93L205.7 261.79L206.7 261.57L207.7 261.26L208.7 260.86L209.7 260.36L210.7 259.75L211.7 259.05L212.7 258.25L213.7 257.37L214.7 256.41L215.7 255.37L216.7 254.26L217.7 253.08L218.7 251.83L219.7 250.5L220.7 249.11L221.7 247.66L222.7 246.16L223.7 244.62L224.7 243.03L225.7 241.43L226.7 239.83L227.7 238.27L228.7 236.79L229.7 235.38L230.7 234.06L231.7 232.81L232.7 231.64L233.7 230.53L234.7 229.5L235.7 228.54L236.7 227.67L237.7 226.87L238.7 226.14L239.7 225.46L240.7 224.8" stroke="#de53f7" stroke-width="2.28" fill="none" stroke-linejoin="round" stroke-linecap="butt"/>
<path d="M52.7 215L53.7 214.46L54.7 213.93L55.7 213.4L56.7 212.87L57.7 212.34L58.7 211.78L59.7 211.2L60.7 210.57L61.7 209.9L62.7 209.17L63.7 208.37L64.7 207.53L65.7 206.63L66.7 205.7L67.7 204.74L68.7 203.77L69.7 202.8L70.7 201.85L71.7 200.91L72.7 199.99L73.7 199.09L74.7 198.19L75.7 197.31L76.7 196.44L77.7 195.59L78.7 194.77L79.7 193.98L80.7 193.21L81.7 192.48L82.7 191.78L83.7 191.1L84.7 190.45L85.7 189.82L86.7 189.2L87.7 188.59L88.7 188L89.7 187.43L90.7 186.86L91.7 186.32L92.7 185.8L93.7 185.31L94.7 184.85L95.7 184.42L96.7 184.04L97.7 183.69L98.7 183.4L99.7 183.14L100.7 182.92L101.7 182.73L102.7 182.57L103.7 182.42L104.7 182.29L105.7 182.17L106.7 182.06L107.7 181.95L108.7 181.85L109.7 181.77L110.7 181.71L111.7 181.66L112.7 181.63L113.7 181.63L114.7 181.65L115.7 181.68L116.7 181.74L117.7 181.83L118.7 181.93L119.7 182.05L120.7 182.19L121.7 182.35L122.7 182.53L123.7 182.73L124.7 182.95L125.7 183.19L126.7 183.46L127.7 183.75L128.7 184.07L129.7 184.42L130.7 184.79L131.7 185.19L132.7 185.61L133.7 186.05L134.7 186.52L135.7 187L136.7 187.5L137.7 188.01L138.7 188.54L139.7 189.09L140.7 189.66L141.7 190.25L142.7 190.86L143.7 191.49L144.7 192.13L145.7 192.8L146.7 193.48L147.7 194.18L148.7 194.92L149.7 195.68L150.7 196.49L151.7 197.33L152.7 198.2L153.7 199.11L154.7 200.05L155.7 201.03L156.7 202.04L157.7 203.09L158.7 204.19L159.7 205.34L160.7 206.54L161.7 207.79L162.7 209.11L163.7 210.48L164.7 211.92L165.7 213.41L166.7 214.92L167.7 216.46L168.7 218L169.7 219.53L170.7 221.06L171.7 222.58L172.7 224.1L173.7 225.61L174.7 227.12L175.7 228.6L176.7 230.06L177.7 231.5L178.7 232.9L179.7 234.28L180.7 235.63L181.7 236.97L182.7 238.28L183.7 239.57L184.7 240.85L185.7 242.11L186.7 243.35L187.7 244.57L188.7 245.78L189.7 246.95L190.7 248.1L191.7 249.22L192.7 250.31L193.7 251.35L194.7 252.32L195.7 253.21L196.7 254.01L197.7 254.74L198.7 255.4L199.7 256L200.7 256.55L201.7 257.04L202.7 257.46L203.7 257.8L204.7 258.05L205.7 258.2L206.7 258.25L207.7 258.17L208.7 257.97L209.7 257.63L210.7 257.14L211.7 256.52L212.7 255.74L213.7 254.81L214.7 253.75L215.7 252.57L216.7 251.27L217.7 249.87L218.7 248.37L219.7 246.8L220.7 245.16L221.7 243.49L222.7 241.82L223.7 240.17L224.7 238.56L225.5 237" stroke="#8da600" stroke-width="2.28" fill="none" stroke-linejoin="round" stroke-linecap="butt"/>
<path d="M52.7 225.1L53.7 225.9L54.7 226.71L55.7 227.53L56.7 228.36L57.7 229.17L58.7 229.96L59.7 230.7L60.7 231.37L61.7 231.98L62.7 232.5L63.7 232.94L64.7 233.31L65.7 233.61L66.7 233.86L67.7 234.04L68.7 234.15L69.7 234.21L70.7 234.2L71.7 234.14L72.7 234.03L73.7 233.89L74.7 233.73L75.7 233.54L76.7 233.33L77.7 233.1L78.7 232.84L79.7 232.57L80.7 232.29L81.7 231.99L82.7 231.7L83.7 231.4L84.7 231.11L85.7 230.83L86.7 230.56L87.7 230.3L88.7 230.05L89.7 229.81L90.7 229.57L91.7 229.33L92.7 229.1L93.7 228.87L94.7 228.63L95.7 228.4L96.7 228.17L97.7 227.94L98.7 227.7L99.7 227.47L100.7 227.22L101.7 226.98L102.7 226.73L103.7 226.48L104.7 226.24L105.7 226.01L106.7 225.79L107.7 225.58L108.7 225.38L109.7 225.19L110.7 225.02L111.7 224.86L112.7 224.71L113.7 224.57L114.7 224.45L115.7 224.34L116.7 224.24L117.7 224.16L118.7 224.09L119.7 224.04L120.7 224.02L121.7 224.02L122.7 224.04L123.7 224.1L124.7 224.18L125.7 224.28L126.7 224.41L127.7 224.57L128.7 224.75L129.7 224.96L130.7 225.2L131.7 225.46L132.7 225.75L133.7 226.06L134.7 226.4L135.7 226.78L136.7 227.2L137.7 227.65L138.7 228.14L139.7 228.68L140.7 229.25L141.7 229.84L142.7 230.46L143.7 231.08L144.7 231.71L145.7 232.35L146.7 232.99L147.7 233.64L148.7 234.3L149.7 234.98L150.7 235.66L151.7 236.35L152.7 237.06L153.7 237.79L154.7 238.53L155.7 239.29L156.7 240.06L157.7 240.84L158.7 241.63L159.7 242.42L160.7 243.21L161.7 243.99L162.7 244.77L163.7 245.54L164.7 246.3L165.7 247.07L166.7 247.83L167.7 248.58L168.7 249.33L169.7 250.08L170.7 250.81L171.7 251.53L172.7 252.25L173.7 252.95L174.7 253.65L175.7 254.33L176.7 255.01L177.7 255.67L178.7 256.32L179.7 256.94L180.7 257.54L181.7 258.11L182.7 258.66L183.7 259.19L184.7 259.69L185.7 260.17L186.7 260.62L187.7 261.05L188.7 261.45L189.7 261.82L190.7 262.16L191.7 262.47L192.7 262.74L193.7 262.99L194.7 263.2L195.7 263.4L196.7 263.56L197.7 263.7L198.7 263.82L199.7 263.92L200.7 264L201.7 264.04L202.7 264.03L203.7 263.98L204.7 263.86L205.7 263.69L206.7 263.45L207.7 263.17L208.7 262.83L209.7 262.45L210.7 262.02L211.7 261.55L212.7 261.03L213.7 260.46L214.7 259.84L215.7 259.15L216.7 258.4L217.7 257.57L218.7 256.66L219.7 255.65L220.7 254.55L221.7 253.36L222.7 252.1L223.7 250.79L224.7 249.42L225.7 248.01L226.7 246.61L227.7 245.24L228.7 243.95L229.7 242.74L230.7 241.61L231.7 240.55L232.7 239.55L233.7 238.61L234.7 237.73L235.7 236.91L236.7 236.15L237.7 235.45L238.7 234.83L239.7 234.27L240.7 233.78L241.7 233.37L242.7 233.03L243.7 232.77L244.7 232.59L245.7 232.49L246.7 232.49L247.7 232.57L248.7 232.75L249.7 233.02L250.7 233.36L251.7 233.79L252.7 234.28L253.7 234.85L254.7 235.49L255.7 236.2L256.7 236.99L257.7 237.86L258.7 238.82L259.7 239.86L260.7 240.98L261.7 242.17L262.7 243.42L263.7 244.71L264.7 246.02L265.7 247.32L266.7 248.59L267.7 249.81L268.7 250.99L269.7 252.13L270.7 253.24L271.7 254.33L272.7 255.36L273.7 256.33L274.4 257.25" stroke="#007957" stroke-width="2.28" fill="none" stroke-linejoin="round" stroke-linecap="butt"/>
<path d="M52.7 247.9L53.7 247.48L54.7 247.06L55.7 246.64L56.7 246.21L57.7 245.79L58.7 245.37L59.7 244.95L60.7 244.53L61.7 244.11L62.7 243.69L63.7 243.27L64.7 242.84L65.7 242.42L66.7 242L67.7 241.58L68.7 241.15L69.7 240.73L70.7 240.3L71.7 239.87L72.7 239.44L73.7 239L74.7 238.57L75.7 238.13L76.7 237.7L77.7 237.26L78.7 236.82L79.7 236.39L80.7 235.96L81.7 235.53L82.7 235.1L83.7 234.68L84.7 234.26L85.7 233.84L86.7 233.43L87.7 233.03L88.7 232.63L89.7 232.24L90.7 231.85L91.7 231.46L92.7 231.08L93.7 230.7L94.7 230.32L95.7 229.94L96.7 229.56L97.7 229.18L98.7 228.8L99.7 228.42L100.7 228.03L101.7 227.65L102.7 227.27L103.7 226.89L104.7 226.52L105.7 226.13L106.7 225.75L107.7 225.36L108.7 224.96L109.7 224.55L110.7 224.12L111.7 223.68L112.7 223.22L113.7 222.74L114.7 222.24L115.7 221.74L116.7 221.25L117.7 220.78L118.7 220.35L119.7 219.96L120.7 219.61L121.7 219.27L122.7 218.94L123.7 218.58L124.7 218.18L125.7 217.72L126.7 217.2L127.7 216.65L128.7 216.08L129.7 215.52L130.7 214.99L131.7 214.49L132.7 214.04L133.7 213.61L134.7 213.22L135.7 212.85L136.7 212.51L137.7 212.2L138.7 211.9L139.7 211.63L140.7 211.38L141.7 211.15L142.7 210.94L143.7 210.76L144.7 210.61L145.7 210.5L146.7 210.43L147.7 210.4L148.7 210.41L149.7 210.47L150.7 210.59L151.7 210.78L152.7 211.06L153.7 211.43L154.7 211.87L155.7 212.38L156.7 212.96L157.7 213.59L158.7 214.3L159.7 215.09L160.7 215.98L161.7 216.98L162.7 218.07L163.7 219.24L164.7 220.47L165.7 221.72L166.7 222.99L167.7 224.27L168.7 225.55L169.7 226.86L170.7 228.17L171.7 229.49L172.7 230.8L173.7 232.08L174.7 233.33L175.7 234.54L176.7 235.71L177.7 236.86L178.7 237.97L179.7 239.07L180.7 240.14L181.7 241.2L182.7 242.25L183.7 243.29L184.7 244.31L185.7 245.32L186.7 246.32L187.7 247.31L188.7 248.28L189.7 249.25L190.7 250.21L191.7 251.16L192.7 252.11L193.7 253.02L194.7 253.89L195.7 254.69L196.7 255.41L197.7 256.04L198.7 256.6L199.7 257.08L200.7 257.47L201.7 257.78L202.7 258.01L203.7 258.13L204.7 258.14L205.7 258.01L206.7 257.76L207.7 257.38L208.7 256.88L209.7 256.27L210.7 255.56L211.7 254.75L212.7 253.84L213.7 252.85L214.7 251.76L215.7 250.6L216.7 249.34L217.7 248L218.7 246.56L219.7 245.03L220.7 243.4L221.7 241.7L222.7 239.95L223.7 238.17L224.7 236.37L225.7 234.56L226.7 232.76L227.7 230.99L228.7 229.26L229.7 227.56L230.7 225.91L231.7 224.27L232.7 222.65L233.7 221.07L234.7 219.55L235.7 218.14L236.7 216.88L237.7 215.77L238.7 214.82L239.7 214.03L240.7 213.4L241.7 212.94L242.7 212.63L243.7 212.48L244.7 212.47L245.7 212.61L246.7 212.92L247.7 213.45L248.7 214.23L249.7 215.27L250.7 216.54L251.7 218.02L252.7 219.65L253.7 221.38L254.7 223.14L255.7 224.88L256.7 226.58L257.7 228.26L258.7 229.92L259.7 231.57L260.7 233.24L261.7 234.94L262.7 236.67L263.7 238.45L264.7 240.26L265.7 242.1L266.7 243.95L267.7 245.79L268.7 247.61L269.7 249.35L270.7 251.01L271.7 252.58L272.7 254.05L273.7 255.43L274.7 256.72L275.7 257.93L276.7 259.04L277.7 260.07L278.7 261L279.7 261.85L280.7 262.64L281.7 263.39L282.7 264.09L283.7 264.75L284.7 265.35L285.7 265.9L286.7 266.4L287.7 266.84L288.7 267.24L289.7 267.6L290.7 267.93L291.7 268.22L292.7 268.48L293.7 268.71L294.7 268.92L295.7 269.11L296.7 269.28L297.7 269.44L298.7 269.57L299.7 269.7L300.7 269.81L301.7 269.91L302.7 270L303.7 270.09L304.7 270.16L305.7 270.22L306.7 270.27L307.7 270.31L308.7 270.34L309.7 270.38L310.7 270.41L311.7 270.44L312.7 270.48L313.2 270.5" stroke="#a08dfb" stroke-width="2.28" fill="none" stroke-linejoin="round" stroke-linecap="butt"/>
<path d="M52.7 173L53.7 177.39L54.7 181.75L55.7 186.05L56.7 190.24L57.7 194.3L58.7 198.21L59.7 201.97L60.7 205.58L61.7 209.04L62.7 212.35L63.7 215.5L64.7 218.49L65.7 221.33L66.7 224.04L67.7 226.6L68.7 229.05L69.7 231.36L70.7 233.56L71.7 235.62L72.7 237.55L73.7 239.34L74.7 240.98L75.7 242.47L76.7 243.81L77.7 245.03L78.7 246.13L79.7 247.15L80.7 248.09L81.7 248.95L82.7 249.75L83.7 250.47L84.7 251.13L85.7 251.72L86.7 252.26L87.7 252.75L88.7 253.19L89.7 253.58L90.7 253.92L91.7 254.22L92.7 254.47L93.7 254.68L94.7 254.84L95.7 254.95L96.7 255.04L97.7 255.11L98.7 255.17L99.7 255.24L100.7 255.32L101.7 255.4L102.7 255.49L103.7 255.57L104.7 255.65L105.7 255.74L106.7 255.82L107.7 255.9L108.7 255.98L109.7 256.05L110.7 256.12L111.7 256.19L112.7 256.26L113.7 256.32L114.7 256.37L115.7 256.42L116.7 256.47L117.7 256.52L118.7 256.56L119.7 256.61L120.7 256.65L121.7 256.7L122.7 256.76L123.7 256.82L124.7 256.89L125.7 256.96L126.7 257.03L127.7 257.11L128.7 257.19L129.7 257.27L130.7 257.36L131.7 257.45L132.7 257.55L133.7 257.66L134.7 257.77L135.7 257.88L136.7 258.01L137.7 258.14L138.7 258.28L139.7 258.43L140.7 258.58L141.7 258.75L142.7 258.91L143.7 259.09L144.7 259.27L145.7 259.45L146.7 259.63L147.7 259.82L148.7 260.01L149.7 260.19L150.7 260.38L151.7 260.57L152.7 260.76L153.7 260.95L154.7 261.15L155.7 261.35L156.7 261.55L157.7 261.75L158.7 261.96L159.7 262.17L160.7 262.38L161.7 262.6L162.7 262.83L163.7 263.06L164.7 263.31L165.7 263.56L166.7 263.82L167.7 264.08L168.7 264.35L169.7 264.61L170.7 264.86L171.7 265.11L172.7 265.34L173.7 265.56L174.7 265.76L175.7 265.96L176.7 266.15L177.7 266.33L178.7 266.5L179.7 266.67L180.7 266.83L181.7 266.98L182.7 267.12L183.7 267.25L184.7 267.38L185.7 267.5L186.7 267.61L187.7 267.71L188.7 267.81L189.7 267.91L190.7 267.99L191.7 268.08L192.7 268.15L193.7 268.23L194.7 268.29L195.7 268.35L196.7 268.4L197.7 268.44L198.7 268.47L199.7 268.48L200.7 268.49L201.7 268.47L202.7 268.45L203.7 268.42L204.7 268.38L205.7 268.34L206.7 268.3L207.7 268.26L208.7 268.22L209 268.2" stroke="#6237e2" stroke-width="2.28" fill="none" stroke-linejoin="round" stroke-linecap="butt"/>
<path d="M52.7 240.2L53.7 240.85L54.7 241.5L55.7 242.17L56.7 242.83L57.7 243.49L58.7 244.13L59.7 244.73L60.7 245.29L61.7 245.79L62.7 246.23L63.7 246.62L64.7 246.94L65.7 247.2L66.7 247.42L67.7 247.6L68.7 247.73L69.7 247.84L70.7 247.91L71.7 247.95L72.7 247.98L73.7 247.98L74.7 247.96L75.7 247.9L76.7 247.82L77.7 247.7L78.7 247.56L79.7 247.39L80.7 247.19L81.7 246.98L82.7 246.76L83.7 246.53L84.7 246.3L85.7 246.06L86.7 245.83L87.7 245.59L88.7 245.35L89.7 245.1L90.7 244.84L91.7 244.57L92.7 244.3L93.7 244.02L94.7 243.74L95.7 243.46L96.7 243.18L97.7 242.91L98.7 242.64L99.7 242.38L100.7 242.13L101.7 241.87L102.7 241.62L103.7 241.38L104.7 241.14L105.7 240.91L106.7 240.68L107.7 240.47L108.7 240.26L109.7 240.07L110.7 239.88L111.7 239.7L112.7 239.54L113.7 239.39L114.7 239.26L115.7 239.14L116.7 239.04L117.7 238.96L118.7 238.9L119.7 238.85L120.7 238.82L121.7 238.82L122.7 238.83L123.7 238.88L124.7 238.94L125.7 239.02L126.7 239.13L127.7 239.25L128.7 239.4L129.7 239.58L130.7 239.77L131.7 239.99L132.7 240.23L133.7 240.49L134.7 240.77L135.7 241.06L136.7 241.36L137.7 241.67L138.7 242L139.7 242.33L140.7 242.67L141.7 243.03L142.7 243.4L143.7 243.79L144.7 244.2L145.7 244.62L146.7 245.07L147.7 245.53L148.7 246.01L149.7 246.49L150.7 246.99L151.7 247.5L152.7 248.02L153.7 248.54L154.7 249.08L155.7 249.63L156.7 250.19L157.7 250.76L158.7 251.33L159.7 251.91L160.7 252.48L161.7 253.05L162.7 253.62L163.7 254.18L164.7 254.74L165.7 255.3L166.7 255.86L167.7 256.42L168.7 256.97L169.7 257.51L170.7 258.05L171.7 258.57L172.7 259.09L173.7 259.59L174.7 260.08L175.7 260.57L176.7 261.04L177.7 261.5L178.7 261.94L179.7 262.37L180.7 262.76L181.7 263.13L182.7 263.47L183.7 263.79L184.7 264.08L185.7 264.35L186.7 264.59L187.7 264.82L188.7 265.02L189.7 265.21L190.7 265.37L191.7 265.52L192.7 265.64L193.7 265.74L194.7 265.82L195.7 265.89L196.7 265.94L197.7 265.98L198.7 266.01L199.7 266.03L200.7 266.03L201.7 266.01L202.7 265.97L203.7 265.9L204.7 265.79L205.7 265.65L206.7 265.48L207.7 265.27L208.7 265.03L209.7 264.76L210.7 264.44L211.7 264.1L212.7 263.7L213.7 263.27L214.7 262.78L215.7 262.24L216.7 261.65L217.7 261.01L218.7 260.33L219.7 259.62L220.7 258.86L221.7 258.07L222.7 257.25L223.7 256.41L224.7 255.53L225.7 254.64L226.7 253.74L227.7 252.85L228.7 251.97L229.7 251.12L230.7 250.29L231.7 249.5L232.7 248.75L233.7 248.05L234.7 247.4L235.7 246.79L236.7 246.22L237.7 245.7L238.7 245.22L239.7 244.79L240.7 244.4L241.7 244.05L242.7 243.75L243.7 243.5L244.7 243.31L245.7 243.17L246.7 243.11L247.7 243.14L248.7 243.24L249.7 243.42L250.7 243.67L251.7 243.96L252.7 244.3L253.7 244.66L254.7 245.05L255.7 245.44L256.7 245.82L256.9 246" stroke="#6caa72" stroke-width="2.28" fill="none" stroke-linejoin="round" stroke-linecap="butt"/>
<path d="M52.7 230.4L53.7 231.59L54.7 232.79L55.7 234L56.7 235.22L57.7 236.42L58.7 237.59L59.7 238.7L60.7 239.73L61.7 240.67L62.7 241.5L63.7 242.21L64.7 242.82L65.7 243.33L66.7 243.75L67.7 244.1L68.7 244.38L69.7 244.61L70.7 244.8L71.7 244.96L72.7 245.09L73.7 245.2L74.7 245.29L75.7 245.35L76.7 245.38L77.7 245.37L78.7 245.32L79.7 245.24L80.7 245.13L81.7 245L82.7 244.85L83.7 244.69L84.7 244.53L85.7 244.36L86.7 244.19L87.7 244.01L88.7 243.83L89.7 243.63L90.7 243.42L91.7 243.2L92.7 242.97L93.7 242.73L94.7 242.49L95.7 242.25L96.7 242.01L97.7 241.77L98.7 241.54L99.7 241.32L100.7 241.11L101.7 240.9L102.7 240.69L103.7 240.49L104.7 240.29L105.7 240.1L106.7 239.9L107.7 239.71L108.7 239.53L109.7 239.34L110.7 239.16L111.7 238.99L112.7 238.83L113.7 238.69L114.7 238.56L115.7 238.44L116.7 238.34L117.7 238.26L118.7 238.19L119.7 238.15L120.7 238.12L121.7 238.12L122.7 238.14L123.7 238.19L124.7 238.27L125.7 238.36L126.7 238.48L127.7 238.63L128.7 238.79L129.7 238.97L130.7 239.17L131.7 239.39L132.7 239.63L133.7 239.89L134.7 240.17L135.7 240.46L136.7 240.76L137.7 241.08L138.7 241.4L139.7 241.74L140.7 242.1L141.7 242.46L142.7 242.84L143.7 243.24L144.7 243.64L145.7 244.07L146.7 244.51L147.7 244.96L148.7 245.43L149.7 245.91L150.7 246.4L151.7 246.91L152.7 247.42L153.7 247.95L154.7 248.49L155.7 249.04L156.7 249.6L157.7 250.17L158.7 250.75L159.7 251.33L160.7 251.91L161.7 252.49L162.7 253.06L163.7 253.63L164.7 254.2L165.7 254.76L166.7 255.33L167.7 255.89L168.7 256.45L169.7 257L170.7 257.54L171.7 258.07L172.7 258.58L173.7 259.09L174.7 259.59L175.7 260.07L176.7 260.55L177.7 261.01L178.7 261.45L179.7 261.87L180.7 262.26L181.7 262.63L182.7 262.97L183.7 263.29L184.7 263.58L185.7 263.85L186.7 264.09L187.7 264.32L188.7 264.52L189.7 264.71L190.7 264.87L191.7 265.01L192.7 265.13L193.7 265.23L194.7 265.32L195.7 265.38L196.7 265.44L197.7 265.48L198.7 265.5L199.7 265.52L200.7 265.52L201.7 265.5L202.7 265.48L203.7 265.46L204.7 265.44L205.7 265.42L206.3 265.4" stroke="#815f00" stroke-width="2.28" fill="none" stroke-linejoin="round" stroke-linecap="butt"/>
<path d="M52.7 217.8L53.7 218.07L54.7 218.34L55.7 218.6L56.7 218.86L57.7 219.1L58.7 219.32L59.7 219.51L60.7 219.67L61.7 219.79L62.7 219.89L63.7 219.96L64.7 219.98L65.7 219.97L66.7 219.91L67.7 219.8L68.7 219.65L69.7 219.46L70.7 219.24L71.7 218.97L72.7 218.67L73.7 218.32L74.7 217.94L75.7 217.52L76.7 217.08L77.7 216.62L78.7 216.14L79.7 215.65L80.7 215.15L81.7 214.64L82.7 214.11L83.7 213.58L84.7 213.05L85.7 212.53L86.7 212.02L87.7 211.53L88.7 211.05L89.7 210.58L90.7 210.13L91.7 209.69L92.7 209.27L93.7 208.85L94.7 208.46L95.7 208.08L96.7 207.72L97.7 207.39L98.7 207.07L99.7 206.78L100.7 206.51L101.7 206.25L102.7 206.01L103.7 205.78L104.7 205.55L105.7 205.33L106.7 205.1L107.7 204.86L108.7 204.62L109.7 204.37L110.7 204.13L111.7 203.89L112.7 203.69L113.7 203.52L114.7 203.39L115.7 203.32L116.7 203.28L117.7 203.29L118.7 203.34L119.7 203.41L120.7 203.52L121.7 203.66L122.7 203.82L123.7 204.01L124.7 204.22L125.7 204.47L126.7 204.74L127.7 205.03L128.7 205.34L129.7 205.67L130.7 206.02L131.7 206.39L132.7 206.77L133.7 207.18L134.7 207.6L135.7 208.05L136.7 208.51L137.7 209L138.7 209.5L139.7 210.01L140.7 210.55L141.7 211.11L142.7 211.7L143.7 212.3L144.7 212.94L145.7 213.6L146.7 214.3L147.7 215.01L148.7 215.75L149.7 216.52L150.7 217.31L151.7 218.12L152.7 218.95L153.7 219.81L154.7 220.7L155.7 221.61L156.7 222.54L157.7 223.48L158.7 224.44L159.7 225.4L160.7 226.37L161.7 227.33L162.7 228.28L163.7 229.23L164.7 230.18L165.7 231.12L166.7 232.08L167.7 233.05L168.7 234.03L169.7 235.04L170.7 236.07L171.7 237.12L172.7 238.18L173.7 239.25L174.7 240.31L175.7 241.35L176.7 242.37L177.7 243.36L178.7 244.33L179.7 245.28L180.7 246.21L181.7 247.11L182.7 248L183.7 248.85L184.7 249.69L185.7 250.5L186.7 251.29L187.7 252.05L188.7 252.78L189.7 253.49L190.7 254.16L191.7 254.81L192.7 255.42L193.7 256L194.7 256.55L195.7 257.06L196.7 257.54L197.7 257.97L198.7 258.38L199.7 258.74L200.7 259.05L201.7 259.32L202.7 259.54L203.7 259.69L204.7 259.76L205.7 259.74L206.7 259.61L207.7 259.38L208.7 259.05L209.7 258.6L210.7 258.03L211.7 257.36L212.7 256.6L213.7 255.76L214.7 254.84L215.7 253.86L216.7 252.82L217.7 251.69L218.7 250.49L219.7 249.19L220.7 247.82L221.7 246.38L222.7 244.87L223.7 243.33L224.7 241.75L225.7 240.14L226.7 238.54L227.7 236.96L228.7 235.41L229.7 233.92L230.7 232.49L231.7 231.11L232.7 229.8L233.7 228.56L234.7 227.4L235.7 226.3L236.7 225.27L237.7 224.3L238.7 223.39L239.7 222.56L240.7 221.81L241.7 221.18L242.7 220.66L243.7 220.27L244.7 220L245.7 219.85L246.7 219.8L247.7 219.86L248.7 220.02L249.7 220.29L250.7 220.66L251.7 221.15L252.7 221.75L253.7 222.47L254.7 223.3L255.7 224.25L256.7 225.33L257.7 226.53L258.7 227.85L259.7 229.23L260.7 230.61L261.7 231.95L261.9 232.6" stroke="#430079" stroke-width="2.28" fill="none" stroke-linejoin="round" stroke-linecap="butt"/>
<path d="M415.5 221.25L652.63 221.25" stroke="#142300" stroke-width="2.28" fill="none" stroke-linejoin="round" stroke-linecap="butt"/>
<path d="M415.5 221.25L587.43 221.25" stroke="#0e4300" stroke-width="2.28" fill="none" stroke-linejoin="round" stroke-linecap="butt"/>
<path d="M415.5 221.25L597.23 221.25" stroke="#ee0053" stroke-width="2.28" fill="none" stroke-linejoin="round" stroke-linecap="butt"/>
<path d="M415.5 221.25L622.52 221.25" stroke="#b42979" stroke-width="2.28" fill="none" stroke-linejoin="round" stroke-linecap="butt"/>
<path d="M415.5 221.25L587.84 221.25" stroke="#de53f7" stroke-width="2.28" fill="none" stroke-linejoin="round" stroke-linecap="butt"/>
<path d="M415.5 221.25L571.5 221.25" stroke="#8da600" stroke-width="2.28" fill="none" stroke-linejoin="round" stroke-linecap="butt"/>
<path d="M415.5 221.25L617.48 221.25" stroke="#007957" stroke-width="2.28" fill="none" stroke-linejoin="round" stroke-linecap="butt"/>
<path d="M415.5 221.25L650.08 221.25" stroke="#a08dfb" stroke-width="2.28" fill="none" stroke-linejoin="round" stroke-linecap="butt"/>
<path d="M415.5 221.25L557.66 221.25" stroke="#6237e2" stroke-width="2.28" fill="none" stroke-linejoin="round" stroke-linecap="butt"/>
<path d="M415.5 221.25L600.75 221.25" stroke="#6caa72" stroke-width="2.28" fill="none" stroke-linejoin="round" stroke-linecap="butt"/>
<path d="M415.5 221.25L556.48 221.25" stroke="#815f00" stroke-width="2.28" fill="none" stroke-linejoin="round" stroke-linecap="butt"/>
<path d="M415.5 221.25L605.08 221.25" stroke="#430079" stroke-width="2.28" fill="none" stroke-linejoin="round" stroke-linecap="butt"/>
<path d="M186.5 384.8L187.5 384.75L188.5 384.7L189.5 384.65L190.5 384.6L191.5 384.55L192.5 384.5L193.5 384.45L194.5 384.4L195.5 384.34L196.5 384.29L197.5 384.24L198.5 384.19L199.5 384.13L200.5 384.08L201.5 384.03L202.5 383.98L203.5 383.92L204.5 383.87L205.5 383.82L206.5 383.76L207.5 383.71L208.5 383.66L209.5 383.61L210.5 383.56L211.5 383.51L212.5 383.46L213.5 383.41L214.5 383.36L215.5 383.31L216.5 383.26L217.5 383.21L218.5 383.17L219.5 383.12L220.5 383.08L221.5 383.03L222.5 382.99L223.5 382.95L224.5 382.91L225.5 382.87L226.5 382.83L227.5 382.79L228.5 382.75L229.5 382.72L230.5 382.68L231.5 382.65L232.5 382.62L233.5 382.59L234.5 382.56L235.5 382.53L236.5 382.5L237.5 382.47L238.5 382.44L239.5 382.42L240.5 382.39L241.5 382.37L242.5 382.34L243.5 382.32L244.5 382.3L245.5 382.28L246.5 382.26L247.5 382.24L248.5 382.22L249.5 382.2L250.5 382.18L251.5 382.16L252.5 382.14L253.5 382.13L254.5 382.11L255.5 382.1L256.5 382.08L257.5 382.07L258.5 382.05L259.5 382.04L260.5 382.02L261.5 382.01L262.5 382L263.5 381.98L264.5 381.97L265.5 381.96L266.5 381.95L267.5 381.94L268.5 381.92L269.5 381.91L270.5 381.9L271.5 381.89L272.5 381.88L273.5 381.87L274.5 381.86L275.5 381.85L276.5 381.84L277.5 381.83L278.5 381.82L279.5 381.81L280.5 381.79L281.5 381.79L282.5 381.78L283.5 381.77L284.5 381.76L285.5 381.75L286.5 381.75L287.5 381.74L288.5 381.74L289.5 381.73L290.5 381.73L291.5 381.73L292.5 381.73L293.5 381.73L294.5 381.72L295.5 381.72L296.5 381.72L297.5 381.73L298.5 381.73L299.5 381.73L300.5 381.73L301.5 381.74L302.5 381.74L303.5 381.74L304.5 381.75L305.5 381.75L306.5 381.76L307.5 381.76L308.5 381.77L309.5 381.78L310.5 381.78L311.5 381.79L312.5 381.8L313.5 381.81L314.5 381.82L315.5 381.82L316.5 381.83L317.5 381.84L318.5 381.85L319.5 381.86L320.5 381.87L321.5 381.88L322.5 381.89L323.5 381.9L324.5 381.91L325.5 381.92L326.5 381.93L327.5 381.94L328.5 381.95L329.5 381.96L330.5 381.97L331.5 381.98L332.5 381.99L333.5 382.01L334.5 382.02L335.5 382.03L336.5 382.04L337.5 382.05L338.5 382.06L339.5 382.07L340.5 382.08L341.5 382.09L342.5 382.1L343.5 382.11L344.5 382.12L345.5 382.13L346.5 382.14L347.5 382.14L348.5 382.15L349.5 382.16L350.5 382.17L351.5 382.18L352.5 382.18L353.5 382.19L354.5 382.2L355.5 382.2L356.5 382.21L357.5 382.22L358.5 382.22L359.5 382.23L360.5 382.23L361.5 382.23L362.5 382.24L363.5 382.24L364.5 382.24L365.5 382.24L366.5 382.25L367.5 382.25L368.5 382.25L369.5 382.25L370.5 382.24L371.5 382.24L372.5 382.24L373.5 382.24L374.5 382.23L375.5 382.23L376.5 382.22L377.5 382.22L378.5 382.21L379.5 382.2L380.5 382.19L381.5 382.18L382.5 382.16L383.5 382.14L384.5 382.12L385.5 382.09L386.5 382.06L387.5 382.03L388.5 382L389.5 381.96L390.5 381.93L391.5 381.9L392.5 381.87L393.5 381.84L394.5 381.81L395.5 381.79L396.5 381.77L397.5 381.76L398.5 381.75L399.5 381.74L400.5 381.74L401.5 381.75L402.5 381.76L403.5 381.79L404.5 381.82L405.5 381.85L406.5 381.9L407.5 381.95L408.5 382.01L409.5 382.07L410.5 382.13L411.5 382.2L412.5 382.27L413.5 382.35L414.5 382.43L415.5 382.51L416.5 382.61L417.5 382.71L418.5 382.82L419.5 382.93L420.5 383.06L421.5 383.19L422.5 383.33L423.5 383.49L424.5 383.65L425.5 383.82L426.5 384L427.5 384.19L428.5 384.38L429.5 384.58L430.5 384.8L431.5 385.02L432.5 385.26L433.5 385.51L434.5 385.78L435.5 386.08L436.5 386.38L437.5 386.7L438.5 387.02L439.5 387.32L440.5 387.62L441.5 387.89L442.5 388.14L443.5 388.36L444.5 388.56L445.5 388.74L446.5 388.92L447.5 389.1L448.5 389.29L449.5 389.5L450.5 389.73L451.5 390L452.5 390.31L453.5 390.65L454.5 391.01L455.5 391.37L456.5 391.71L457.5 392.01L458.5 392.27L459.5 392.46L460.5 392.58L461.5 392.62L462.5 392.64L463.5 392.67L464.5 392.75L465.5 392.92L466.5 393.17L467.5 393.49L468.5 393.86L469.5 394.26L470.5 394.67L471.5 395.07L472.5 395.45L473.5 395.79L474.5 396.1L475.5 396.39L476.5 396.67L477.5 396.94L478.5 397.2L479.5 397.45L480.5 397.7L481.5 397.93L482.5 398.15L483.5 398.37L484.5 398.58L485.5 398.78L486.5 398.96L487.5 399.14L488.5 399.31L489.5 399.47L490.5 399.63L491.5 399.78L492.5 399.92L493.5 400.06L494.5 400.2L495.5 400.34L496.5 400.47L497.5 400.61L498.5 400.74L499.5 400.86L500.5 400.98L501.5 401.08L502.5 401.17L503.5 401.25L504.5 401.31L505.5 401.37L506.5 401.42L507.5 401.46L508.5 401.49L509.5 401.49L510.5 401.47L511.5 401.4L512.5 401.29L513.5 401.16L514.5 401.02L515.5 400.84L516.5 400.62L517.5 400.31L518.5 399.91L519.5 399.4L520.5 398.79L521.5 398.08L522.5 397.29L523.5 396.44L524.5 395.53L525.5 394.58L526.5 393.55L527.5 392.42L528.5 391.23L529.5 390.02L530.5 388.84L531.5 387.73L532.5 386.73L533.5 385.79L534.5 384.9L535.5 384.08L536.5 383.35L537.5 382.72L538.5 382.17L539.5 381.7L540.5 381.34L541.5 381.09L542.5 380.95L543.5 380.9L544.5 380.98L545.5 381.25L546.5 381.76L547.5 382.52L548.5 383.45L549.5 384.36L550.1 385" stroke="#142300" stroke-width="2.28" fill="none" stroke-linejoin="round" stroke-linecap="butt"/>
<path d="M186.5 381.8L187.5 381.77L188.5 381.74L189.5 381.7L190.5 381.67L191.5 381.64L192.5 381.6L193.5 381.57L194.5 381.54L195.5 381.5L196.5 381.47L197.5 381.44L198.5 381.4L199.5 381.37L200.5 381.33L201.5 381.3L202.5 381.27L203.5 381.23L204.5 381.2L205.5 381.17L206.5 381.13L207.5 381.1L208.5 381.07L209.5 381.03L210.5 381L211.5 380.97L212.5 380.93L213.5 380.9L214.5 380.87L215.5 380.84L216.5 380.8L217.5 380.77L218.5 380.74L219.5 380.71L220.5 380.68L221.5 380.65L222.5 380.62L223.5 380.59L224.5 380.56L225.5 380.53L226.5 380.5L227.5 380.47L228.5 380.44L229.5 380.41L230.5 380.39L231.5 380.36L232.5 380.33L233.5 380.3L234.5 380.28L235.5 380.25L236.5 380.22L237.5 380.19L238.5 380.17L239.5 380.14L240.5 380.11L241.5 380.08L242.5 380.06L243.5 380.03L244.5 380L245.5 379.98L246.5 379.95L247.5 379.92L248.5 379.9L249.5 379.87L250.5 379.85L251.5 379.82L252.5 379.8L253.5 379.77L254.5 379.75L255.5 379.72L256.5 379.7L257.5 379.68L258.5 379.65L259.5 379.63L260.5 379.61L261.5 379.59L262.5 379.57L263.5 379.55L264.5 379.53L265.5 379.51L266.5 379.49L267.5 379.47L268.5 379.45L269.5 379.44L270.5 379.42L271.5 379.4L272.5 379.39L273.5 379.38L274.5 379.36L275.5 379.35L276.5 379.34L277.5 379.33L278.5 379.31L279.5 379.3L280.5 379.3L281.5 379.29L282.5 379.28L283.5 379.28L284.5 379.28L285.5 379.28L286.5 379.28L287.5 379.28L288.5 379.29L289.5 379.29L290.5 379.3L291.5 379.31L292.5 379.32L293.5 379.33L294.5 379.34L295.5 379.36L296.5 379.37L297.5 379.39L298.5 379.41L299.5 379.43L300.5 379.45L301.5 379.47L302.5 379.49L303.5 379.51L304.5 379.54L305.5 379.56L306.5 379.59L307.5 379.61L308.5 379.64L309.5 379.67L310.5 379.7L311.5 379.73L312.5 379.75L313.5 379.79L314.5 379.82L315.5 379.85L316.5 379.88L317.5 379.91L318.5 379.94L319.5 379.98L320.5 380.01L321.5 380.04L322.5 380.08L323.5 380.11L324.5 380.14L325.5 380.18L326.5 380.21L327.5 380.24L328.5 380.28L329.5 380.31L330.5 380.35L331.5 380.38L332.5 380.41L333.5 380.44L334.5 380.48L335.5 380.51L336.5 380.54L337.5 380.57L338.5 380.6L339.5 380.64L340.5 380.67L341.5 380.69L342.5 380.72L343.5 380.75L344.5 380.78L345.5 380.81L346.5 380.83L347.5 380.86L348.5 380.88L349.5 380.91L350.5 380.93L351.5 380.95L352.5 380.97L353.5 380.99L354.5 381.01L355.5 381.03L356.5 381.04L357.5 381.06L358.5 381.07L359.5 381.09L360.5 381.1L361.5 381.11L362.5 381.12L363.5 381.12L364.5 381.13L365.5 381.13L366.5 381.14L367.5 381.14L368.5 381.14L369.5 381.13L370.5 381.13L371.5 381.12L372.5 381.12L373.5 381.11L374.5 381.1L375.5 381.08L376.5 381.07L377.5 381.05L378.5 381.03L379.5 381.01L380.5 380.98L381.5 380.95L382.5 380.91L383.5 380.85L384.5 380.79L385.5 380.72L386.5 380.65L387.5 380.57L388.5 380.5L389.5 380.42L390.5 380.34L391.5 380.26L392.5 380.18L393.5 380.11L394.5 380.04L395.5 379.98L396.5 379.93L397.5 379.88L398.5 379.85L399.5 379.83L400.5 379.82L401.5 379.82L402.5 379.84L403.5 379.88L404.5 379.94L405.5 380.01L406.5 380.1L407.5 380.2L408.5 380.31L409.5 380.42L410.5 380.53L411.5 380.65L412.5 380.78L413.5 380.92L414.5 381.07L415.5 381.24L416.5 381.42L417.5 381.62L418.5 381.85L419.5 382.09L420.5 382.36L421.5 382.66L422.5 382.98L423.5 383.34L424.5 383.72L425.5 384.12L426.5 384.52L427.5 384.95L428.5 385.4L429.5 385.88L430.5 386.4L431.5 386.98L432.5 387.61L433.5 388.29L434.5 389.03L435.5 389.81L436.5 390.64L437.5 391.51L438.5 392.43L439.5 393.42L440.5 394.46L441.5 395.56L442.5 396.72L443.5 397.93L444.5 399.19L445.5 400.52L446.5 401.93L447.5 403.44L448.5 405.04L449.5 406.69L450.5 408.23L450.8 408.9" stroke="#0e4300" stroke-width="2.28" fill="none" stroke-linejoin="round" stroke-linecap="butt"/>
<path d="M186.5 367.9L187.5 367.86L188.5 367.82L189.5 367.78L190.5 367.74L191.5 367.7L192.5 367.65L193.5 367.61L194.5 367.57L195.5 367.52L196.5 367.48L197.5 367.43L198.5 367.39L199.5 367.34L200.5 367.3L201.5 367.25L202.5 367.21L203.5 367.16L204.5 367.12L205.5 367.07L206.5 367.03L207.5 366.98L208.5 366.94L209.5 366.9L210.5 366.85L211.5 366.81L212.5 366.77L213.5 366.73L214.5 366.69L215.5 366.65L216.5 366.61L217.5 366.57L218.5 366.53L219.5 366.5L220.5 366.46L221.5 366.43L222.5 366.4L223.5 366.37L224.5 366.34L225.5 366.31L226.5 366.28L227.5 366.26L228.5 366.23L229.5 366.21L230.5 366.19L231.5 366.17L232.5 366.15L233.5 366.13L234.5 366.12L235.5 366.1L236.5 366.08L237.5 366.07L238.5 366.05L239.5 366.04L240.5 366.03L241.5 366.02L242.5 366.01L243.5 366L244.5 365.99L245.5 365.98L246.5 365.97L247.5 365.97L248.5 365.96L249.5 365.96L250.5 365.95L251.5 365.95L252.5 365.95L253.5 365.94L254.5 365.94L255.5 365.94L256.5 365.95L257.5 365.95L258.5 365.95L259.5 365.95L260.5 365.96L261.5 365.96L262.5 365.97L263.5 365.98L264.5 365.99L265.5 365.99L266.5 366L267.5 366.02L268.5 366.03L269.5 366.04L270.5 366.05L271.5 366.07L272.5 366.08L273.5 366.1L274.5 366.12L275.5 366.13L276.5 366.15L277.5 366.17L278.5 366.19L279.5 366.22L280.5 366.24L281.5 366.26L282.5 366.29L283.5 366.31L284.5 366.34L285.5 366.37L286.5 366.39L287.5 366.42L288.5 366.45L289.5 366.48L290.5 366.52L291.5 366.55L292.5 366.58L293.5 366.62L294.5 366.66L295.5 366.7L296.5 366.73L297.5 366.78L298.5 366.82L299.5 366.86L300.5 366.9L301.5 366.95L302.5 366.99L303.5 367.04L304.5 367.09L305.5 367.14L306.5 367.18L307.5 367.23L308.5 367.29L309.5 367.34L310.5 367.39L311.5 367.44L312.5 367.49L313.5 367.55L314.5 367.6L315.5 367.66L316.5 367.71L317.5 367.77L318.5 367.83L319.5 367.88L320.5 367.94L321.5 368L322.5 368.06L323.5 368.12L324.5 368.17L325.5 368.23L326.5 368.29L327.5 368.35L328.5 368.41L329.5 368.47L330.5 368.53L331.5 368.59L332.5 368.65L333.5 368.71L334.5 368.78L335.5 368.84L336.5 368.91L337.5 368.97L338.5 369.04L339.5 369.11L340.5 369.17L341.5 369.24L342.5 369.31L343.5 369.38L344.5 369.45L345.5 369.51L346.5 369.58L347.5 369.65L348.5 369.72L349.5 369.79L350.5 369.86L351.5 369.93L352.5 370L353.5 370.07L354.5 370.13L355.5 370.2L356.5 370.27L357.5 370.34L358.5 370.4L359.5 370.47L360.5 370.53L361.5 370.59L362.5 370.65L363.5 370.71L364.5 370.77L365.5 370.82L366.5 370.87L367.5 370.92L368.5 370.97L369.5 371.02L370.5 371.06L371.5 371.11L372.5 371.16L373.5 371.2L374.5 371.25L375.5 371.29L376.5 371.34L377.5 371.39L378.5 371.43L379.5 371.48L380.5 371.53L381.5 371.58L382.5 371.63L383.5 371.69L384.5 371.74L385.5 371.8L386.5 371.86L387.5 371.92L388.5 371.99L389.5 372.06L390.5 372.13L391.5 372.2L392.5 372.28L393.5 372.36L394.5 372.45L395.5 372.54L396.5 372.63L397.5 372.73L398.5 372.84L399.5 372.94L400.5 373.05L401.5 373.15L402.5 373.23L403.5 373.3L404.5 373.36L405.5 373.43L406.5 373.5L407.5 373.58L408.5 373.68L409.5 373.8L410.5 373.94L411.5 374.11L412.5 374.31L413.5 374.56L414.5 374.85L415.5 375.18L416.5 375.55L417.5 375.94L418.5 376.36L419.5 376.81L420.5 377.28L421.5 377.78L422.5 378.31L423.5 378.85L424.5 379.41L425.5 380L426.5 380.61L427.5 381.24L428.5 381.91L429.5 382.61L430.5 383.34L431.5 384.1L432.5 384.91L433.5 385.75L434.5 386.63L435.5 387.55L436.5 388.5L437.5 389.48L438.5 390.49L439.5 391.55L440.5 392.63L441.5 393.75L442.5 394.9L443.5 396.09L444.5 397.3L445.5 398.55L446.5 399.84L447.5 401.16L448.5 402.52L449.5 403.92L450.5 405.37L451.5 406.87L452.5 408.43L453.5 410.04L454.5 411.68L455.5 413.34L456.5 415L457.5 416.64L458.5 418.27L459.5 419.88L460.5 421.49L461.5 423.09L462.5 424.7L463.5 426.31L464.5 427.9L465.5 429.36L465.8 430" stroke="#ee0053" stroke-width="2.28" fill="none" stroke-linejoin="round" stroke-linecap="butt"/>
<path d="M186.5 364L187.5 363.98L188.5 363.96L189.5 363.94L190.5 363.92L191.5 363.9L192.5 363.88L193.5 363.86L194.5 363.84L195.5 363.81L196.5 363.79L197.5 363.77L198.5 363.74L199.5 363.72L200.5 363.7L201.5 363.67L202.5 363.65L203.5 363.63L204.5 363.6L205.5 363.58L206.5 363.56L207.5 363.54L208.5 363.51L209.5 363.49L210.5 363.47L211.5 363.45L212.5 363.43L213.5 363.41L214.5 363.39L215.5 363.37L216.5 363.35L217.5 363.34L218.5 363.32L219.5 363.3L220.5 363.29L221.5 363.28L222.5 363.26L223.5 363.25L224.5 363.24L225.5 363.23L226.5 363.22L227.5 363.21L228.5 363.21L229.5 363.2L230.5 363.2L231.5 363.19L232.5 363.19L233.5 363.18L234.5 363.18L235.5 363.17L236.5 363.17L237.5 363.16L238.5 363.16L239.5 363.15L240.5 363.15L241.5 363.14L242.5 363.14L243.5 363.13L244.5 363.13L245.5 363.12L246.5 363.12L247.5 363.12L248.5 363.11L249.5 363.11L250.5 363.11L251.5 363.11L252.5 363.11L253.5 363.11L254.5 363.11L255.5 363.11L256.5 363.12L257.5 363.12L258.5 363.13L259.5 363.14L260.5 363.14L261.5 363.15L262.5 363.16L263.5 363.18L264.5 363.19L265.5 363.2L266.5 363.22L267.5 363.24L268.5 363.26L269.5 363.28L270.5 363.3L271.5 363.33L272.5 363.36L273.5 363.39L274.5 363.42L275.5 363.45L276.5 363.49L277.5 363.52L278.5 363.56L279.5 363.61L280.5 363.65L281.5 363.7L282.5 363.75L283.5 363.8L284.5 363.85L285.5 363.91L286.5 363.97L287.5 364.03L288.5 364.1L289.5 364.17L290.5 364.24L291.5 364.31L292.5 364.39L293.5 364.48L294.5 364.57L295.5 364.66L296.5 364.76L297.5 364.86L298.5 364.96L299.5 365.07L300.5 365.18L301.5 365.29L302.5 365.41L303.5 365.52L304.5 365.64L305.5 365.76L306.5 365.88L307.5 366.01L308.5 366.13L309.5 366.25L310.5 366.38L311.5 366.5L312.5 366.62L313.5 366.75L314.5 366.87L315.5 366.99L316.5 367.11L317.5 367.23L318.5 367.35L319.5 367.46L320.5 367.58L321.5 367.69L322.5 367.8L323.5 367.9L324.5 368L325.5 368.1L326.5 368.2L327.5 368.29L328.5 368.38L329.5 368.46L330.5 368.54L331.5 368.61L332.5 368.69L333.5 368.76L334.5 368.83L335.5 368.89L336.5 368.95L337.5 369.02L338.5 369.08L339.5 369.13L340.5 369.19L341.5 369.25L342.5 369.3L343.5 369.35L344.5 369.4L345.5 369.46L346.5 369.51L347.5 369.56L348.5 369.61L349.5 369.66L350.5 369.7L351.5 369.75L352.5 369.8L353.5 369.85L354.5 369.91L355.5 369.96L356.5 370.01L357.5 370.06L358.5 370.12L359.5 370.17L360.5 370.23L361.5 370.28L362.5 370.34L363.5 370.4L364.5 370.45L365.5 370.51L366.5 370.56L367.5 370.62L368.5 370.67L369.5 370.72L370.5 370.78L371.5 370.83L372.5 370.88L373.5 370.94L374.5 370.99L375.5 371.05L376.5 371.1L377.5 371.15L378.5 371.21L379.5 371.26L380.5 371.32L381.5 371.37L382.5 371.43L383.5 371.48L384.5 371.54L385.5 371.6L386.5 371.65L387.5 371.71L388.5 371.77L389.5 371.83L390.5 371.89L391.5 371.95L392.5 372.01L393.5 372.07L394.5 372.14L395.5 372.2L396.5 372.26L397.5 372.33L398.5 372.4L399.5 372.47L400.5 372.53L401.5 372.6L402.5 372.66L403.5 372.71L404.5 372.77L405.5 372.82L406.5 372.87L407.5 372.92L408.5 372.98L409.5 373.03L410.5 373.09L411.5 373.15L412.5 373.22L413.5 373.3L414.5 373.38L415.5 373.47L416.5 373.57L417.5 373.68L418.5 373.8L419.5 373.93L420.5 374.07L421.5 374.22L422.5 374.38L423.5 374.54L424.5 374.7L425.5 374.87L426.5 375.05L427.5 375.24L428.5 375.44L429.5 375.65L430.5 375.87L431.5 376.1L432.5 376.35L433.5 376.61L434.5 376.87L435.5 377.13L436.5 377.41L437.5 377.7L438.5 378L439.5 378.33L440.5 378.68L441.5 379.05L442.5 379.46L443.5 379.89L444.5 380.36L445.5 380.86L446.5 381.37L447.5 381.89L448.5 382.41L449.5 382.93L450.5 383.45L451.5 383.95L452.5 384.45L453.5 384.95L454.5 385.45L455.5 385.95L456.5 386.46L457.5 386.98L458.5 387.51L459.5 388.05L460.5 388.6L461.5 389.16L462.5 389.73L463.5 390.31L464.5 390.9L465.5 391.52L466.5 392.16L467.5 392.82L468.5 393.5L469.5 394.19L470.5 394.88L471.5 395.57L472.5 396.24L473.5 396.9L474.5 397.56L475.5 398.22L476.5 398.88L477.5 399.54L478.5 400.17L479.5 400.77L480.5 401.33L481.5 401.86L482.5 402.42L483.5 403L484.5 403.52L485.5 403.89L486.5 404L487.5 403.79L488.5 403.29L489.5 402.56L490.5 401.66L491.5 400.63L492.5 399.4L493.5 398.01L494.5 396.58L495.5 395.26L496.5 394.1L497.5 393.07L498.5 392.16L499.5 391.38L500.5 390.74L501.5 390.22L502.5 389.92L503.5 390.05L504.5 390.68L505.5 391.56L505.9 392" stroke="#b42979" stroke-width="2.28" fill="none" stroke-linejoin="round" stroke-linecap="butt"/>
<path d="M186.5 364L187.5 363.98L188.5 363.96L189.5 363.94L190.5 363.92L191.5 363.9L192.5 363.88L193.5 363.86L194.5 363.84L195.5 363.81L196.5 363.79L197.5 363.77L198.5 363.74L199.5 363.72L200.5 363.7L201.5 363.67L202.5 363.65L203.5 363.63L204.5 363.6L205.5 363.58L206.5 363.56L207.5 363.54L208.5 363.51L209.5 363.49L210.5 363.47L211.5 363.45L212.5 363.43L213.5 363.41L214.5 363.39L215.5 363.37L216.5 363.35L217.5 363.34L218.5 363.32L219.5 363.3L220.5 363.29L221.5 363.28L222.5 363.26L223.5 363.25L224.5 363.24L225.5 363.23L226.5 363.22L227.5 363.21L228.5 363.21L229.5 363.2L230.5 363.2L231.5 363.19L232.5 363.19L233.5 363.19L234.5 363.18L235.5 363.18L236.5 363.17L237.5 363.17L238.5 363.16L239.5 363.16L240.5 363.15L241.5 363.15L242.5 363.14L243.5 363.14L244.5 363.14L245.5 363.13L246.5 363.13L247.5 363.13L248.5 363.13L249.5 363.12L250.5 363.12L251.5 363.12L252.5 363.12L253.5 363.13L254.5 363.13L255.5 363.13L256.5 363.14L257.5 363.14L258.5 363.15L259.5 363.16L260.5 363.17L261.5 363.18L262.5 363.19L263.5 363.2L264.5 363.21L265.5 363.23L266.5 363.25L267.5 363.27L268.5 363.29L269.5 363.31L270.5 363.33L271.5 363.36L272.5 363.38L273.5 363.41L274.5 363.44L275.5 363.48L276.5 363.51L277.5 363.55L278.5 363.59L279.5 363.63L280.5 363.67L281.5 363.72L282.5 363.76L283.5 363.81L284.5 363.87L285.5 363.92L286.5 363.98L287.5 364.04L288.5 364.1L289.5 364.17L290.5 364.24L291.5 364.31L292.5 364.39L293.5 364.47L294.5 364.55L295.5 364.64L296.5 364.73L297.5 364.83L298.5 364.93L299.5 365.03L300.5 365.13L301.5 365.24L302.5 365.35L303.5 365.46L304.5 365.57L305.5 365.69L306.5 365.8L307.5 365.92L308.5 366.03L309.5 366.15L310.5 366.27L311.5 366.39L312.5 366.5L313.5 366.62L314.5 366.74L315.5 366.85L316.5 366.97L317.5 367.08L318.5 367.19L319.5 367.3L320.5 367.41L321.5 367.52L322.5 367.62L323.5 367.72L324.5 367.82L325.5 367.92L326.5 368.01L327.5 368.1L328.5 368.18L329.5 368.26L330.5 368.34L331.5 368.41L332.5 368.49L333.5 368.56L334.5 368.63L335.5 368.7L336.5 368.77L337.5 368.84L338.5 368.91L339.5 368.98L340.5 369.04L341.5 369.1L342.5 369.17L343.5 369.23L344.5 369.29L345.5 369.34L346.5 369.4L347.5 369.45L348.5 369.51L349.5 369.56L350.5 369.61L351.5 369.66L352.5 369.7L353.5 369.75L354.5 369.79L355.5 369.84L356.5 369.87L357.5 369.91L358.5 369.95L359.5 369.98L360.5 370.02L361.5 370.04L362.5 370.07L363.5 370.1L364.5 370.12L365.5 370.14L366.5 370.15L367.5 370.17L368.5 370.18L369.5 370.2L370.5 370.21L371.5 370.22L372.5 370.22L373.5 370.23L374.5 370.24L375.5 370.24L376.5 370.25L377.5 370.25L378.5 370.26L379.5 370.27L380.5 370.27L381.5 370.28L382.5 370.28L383.5 370.29L384.5 370.3L385.5 370.3L386.5 370.3L387.5 370.3L388.5 370.3L389.5 370.29L390.5 370.28L391.5 370.27L392.5 370.26L393.5 370.25L394.5 370.25L395.5 370.25L396.5 370.26L397.5 370.27L398.5 370.29L399.5 370.33L400.5 370.37L401.5 370.42L402.5 370.48L403.5 370.56L404.5 370.64L405.5 370.74L406.5 370.84L407.5 370.94L408.5 371.05L409.5 371.16L410.5 371.27L411.5 371.38L412.5 371.49L413.5 371.6L414.5 371.71L415.5 371.8L416.5 371.87L417.5 371.9L418.5 371.9L419.5 371.9L420.5 371.89L421.5 371.89L422.5 371.92L423.5 371.99L424.5 372.11L425.5 372.29L426.5 372.55L427.5 372.9L428.5 373.31L429.5 373.78L430.5 374.28L431.5 374.85L432.5 375.49L433.5 376.22L434.5 377.06L435.5 378.03L436.5 379.12L437.5 380.33L438.5 381.62L439.5 382.97L440.5 384.35L441.5 385.74L442.5 387.12L443.5 388.48L444.5 389.87L445.5 391.33L446.5 392.89L447.5 394.6L448.5 396.46L449.5 398.41L450.5 400.21L450.8 401" stroke="#de53f7" stroke-width="2.28" fill="none" stroke-linejoin="round" stroke-linecap="butt"/>
<path d="M186.5 362.4L187.5 362.39L188.5 362.37L189.5 362.36L190.5 362.34L191.5 362.32L192.5 362.31L193.5 362.29L194.5 362.28L195.5 362.26L196.5 362.24L197.5 362.22L198.5 362.21L199.5 362.19L200.5 362.17L201.5 362.15L202.5 362.13L203.5 362.12L204.5 362.1L205.5 362.08L206.5 362.06L207.5 362.05L208.5 362.03L209.5 362.01L210.5 362L211.5 361.98L212.5 361.97L213.5 361.95L214.5 361.94L215.5 361.92L216.5 361.91L217.5 361.9L218.5 361.88L219.5 361.87L220.5 361.86L221.5 361.85L222.5 361.84L223.5 361.83L224.5 361.83L225.5 361.82L226.5 361.81L227.5 361.81L228.5 361.8L229.5 361.8L230.5 361.8L231.5 361.8L232.5 361.79L233.5 361.79L234.5 361.79L235.5 361.78L236.5 361.78L237.5 361.77L238.5 361.77L239.5 361.76L240.5 361.76L241.5 361.75L242.5 361.75L243.5 361.74L244.5 361.73L245.5 361.73L246.5 361.73L247.5 361.72L248.5 361.72L249.5 361.71L250.5 361.71L251.5 361.71L252.5 361.71L253.5 361.71L254.5 361.7L255.5 361.71L256.5 361.71L257.5 361.71L258.5 361.71L259.5 361.72L260.5 361.72L261.5 361.73L262.5 361.74L263.5 361.75L264.5 361.76L265.5 361.77L266.5 361.78L267.5 361.8L268.5 361.82L269.5 361.84L270.5 361.86L271.5 361.88L272.5 361.9L273.5 361.93L274.5 361.96L275.5 361.99L276.5 362.02L277.5 362.06L278.5 362.09L279.5 362.13L280.5 362.17L281.5 362.22L282.5 362.26L283.5 362.31L284.5 362.37L285.5 362.42L286.5 362.48L287.5 362.54L288.5 362.6L289.5 362.67L290.5 362.74L291.5 362.81L292.5 362.88L293.5 362.96L294.5 363.04L295.5 363.12L296.5 363.2L297.5 363.29L298.5 363.37L299.5 363.46L300.5 363.55L301.5 363.65L302.5 363.74L303.5 363.84L304.5 363.94L305.5 364.04L306.5 364.14L307.5 364.25L308.5 364.35L309.5 364.46L310.5 364.57L311.5 364.68L312.5 364.79L313.5 364.9L314.5 365.02L315.5 365.13L316.5 365.25L317.5 365.36L318.5 365.48L319.5 365.6L320.5 365.72L321.5 365.84L322.5 365.96L323.5 366.09L324.5 366.21L325.5 366.34L326.5 366.46L327.5 366.59L328.5 366.71L329.5 366.84L330.5 366.96L331.5 367.1L332.5 367.23L333.5 367.37L334.5 367.51L335.5 367.65L336.5 367.8L337.5 367.94L338.5 368.09L339.5 368.24L340.5 368.39L341.5 368.54L342.5 368.69L343.5 368.84L344.5 368.99L345.5 369.13L346.5 369.28L347.5 369.42L348.5 369.57L349.5 369.7L350.5 369.84L351.5 369.97L352.5 370.1L353.5 370.22L354.5 370.34L355.5 370.46L356.5 370.57L357.5 370.68L358.5 370.78L359.5 370.89L360.5 370.99L361.5 371.09L362.5 371.19L363.5 371.28L364.5 371.38L365.5 371.47L366.5 371.56L367.5 371.65L368.5 371.73L369.5 371.82L370.5 371.9L371.5 371.98L372.5 372.06L373.5 372.14L374.5 372.21L375.5 372.28L376.5 372.36L377.5 372.43L378.5 372.5L379.5 372.57L380.5 372.63L381.5 372.69L382.5 372.74L383.5 372.79L384.5 372.83L385.5 372.87L386.5 372.91L387.5 372.94L388.5 372.98L389.5 373.01L390.5 373.04L391.5 373.08L392.5 373.12L393.5 373.16L394.5 373.21L395.5 373.26L396.5 373.32L397.5 373.39L398.5 373.47L399.5 373.55L400.5 373.64L401.5 373.73L402.5 373.81L403.5 373.89L404.5 373.98L405.5 374.08L406.5 374.19L407.5 374.33L408.5 374.49L409.5 374.69L410.5 374.9L411.5 375.09L412.5 375.25L413.5 375.42L414.5 375.61L415.5 375.87L416.5 376.21L417.5 376.68L418.5 377.29L419.5 378.07L420.5 378.99L421.5 380.02L422.5 381.19L423.5 382.56L424.5 384.21L425.5 386.17L426.5 388.36L427.5 390.64L428.5 392.61L428.7 393.4" stroke="#8da600" stroke-width="2.28" fill="none" stroke-linejoin="round" stroke-linecap="butt"/>
<path d="M186.5 364.4L187.5 364.38L188.5 364.36L189.5 364.34L190.5 364.32L191.5 364.3L192.5 364.28L193.5 364.26L194.5 364.24L195.5 364.21L196.5 364.19L197.5 364.17L198.5 364.15L199.5 364.12L200.5 364.1L201.5 364.08L202.5 364.06L203.5 364.03L204.5 364.01L205.5 363.99L206.5 363.97L207.5 363.94L208.5 363.92L209.5 363.9L210.5 363.88L211.5 363.86L212.5 363.84L213.5 363.82L214.5 363.8L215.5 363.78L216.5 363.76L217.5 363.75L218.5 363.73L219.5 363.71L220.5 363.7L221.5 363.68L222.5 363.67L223.5 363.66L224.5 363.65L225.5 363.63L226.5 363.63L227.5 363.62L228.5 363.61L229.5 363.6L230.5 363.6L231.5 363.59L232.5 363.59L233.5 363.58L234.5 363.58L235.5 363.58L236.5 363.57L237.5 363.57L238.5 363.57L239.5 363.56L240.5 363.56L241.5 363.56L242.5 363.56L243.5 363.56L244.5 363.56L245.5 363.56L246.5 363.56L247.5 363.56L248.5 363.56L249.5 363.56L250.5 363.57L251.5 363.57L252.5 363.58L253.5 363.58L254.5 363.59L255.5 363.59L256.5 363.6L257.5 363.61L258.5 363.62L259.5 363.62L260.5 363.63L261.5 363.65L262.5 363.66L263.5 363.67L264.5 363.68L265.5 363.7L266.5 363.71L267.5 363.73L268.5 363.75L269.5 363.77L270.5 363.79L271.5 363.81L272.5 363.83L273.5 363.85L274.5 363.87L275.5 363.9L276.5 363.93L277.5 363.95L278.5 363.98L279.5 364.01L280.5 364.04L281.5 364.07L282.5 364.11L283.5 364.14L284.5 364.18L285.5 364.22L286.5 364.25L287.5 364.29L288.5 364.34L289.5 364.38L290.5 364.42L291.5 364.47L292.5 364.52L293.5 364.56L294.5 364.61L295.5 364.66L296.5 364.71L297.5 364.77L298.5 364.82L299.5 364.88L300.5 364.93L301.5 364.99L302.5 365.05L303.5 365.11L304.5 365.17L305.5 365.23L306.5 365.29L307.5 365.35L308.5 365.42L309.5 365.48L310.5 365.55L311.5 365.62L312.5 365.68L313.5 365.75L314.5 365.82L315.5 365.89L316.5 365.96L317.5 366.04L318.5 366.11L319.5 366.18L320.5 366.26L321.5 366.33L322.5 366.41L323.5 366.49L324.5 366.56L325.5 366.64L326.5 366.72L327.5 366.8L328.5 366.88L329.5 366.96L330.5 367.04L331.5 367.12L332.5 367.21L333.5 367.29L334.5 367.37L335.5 367.46L336.5 367.54L337.5 367.63L338.5 367.72L339.5 367.81L340.5 367.9L341.5 367.99L342.5 368.08L343.5 368.17L344.5 368.26L345.5 368.35L346.5 368.45L347.5 368.54L348.5 368.64L349.5 368.73L350.5 368.83L351.5 368.93L352.5 369.03L353.5 369.13L354.5 369.23L355.5 369.33L356.5 369.43L357.5 369.54L358.5 369.64L359.5 369.75L360.5 369.85L361.5 369.96L362.5 370.08L363.5 370.19L364.5 370.31L365.5 370.43L366.5 370.55L367.5 370.67L368.5 370.79L369.5 370.91L370.5 371.03L371.5 371.15L372.5 371.27L373.5 371.39L374.5 371.51L375.5 371.62L376.5 371.73L377.5 371.84L378.5 371.95L379.5 372.05L380.5 372.14L381.5 372.22L382.5 372.29L383.5 372.33L384.5 372.37L385.5 372.38L386.5 372.39L387.5 372.39L388.5 372.37L389.5 372.35L390.5 372.32L391.5 372.28L392.5 372.23L393.5 372.19L394.5 372.14L395.5 372.08L396.5 372.03L397.5 371.98L398.5 371.92L399.5 371.87L400.5 371.83L401.5 371.79L402.5 371.75L403.5 371.73L404.5 371.71L405.5 371.7L406.5 371.7L407.5 371.72L408.5 371.75L409.5 371.79L410.5 371.85L411.5 371.92L412.5 372.01L413.5 372.12L414.5 372.25L415.5 372.41L416.5 372.58L417.5 372.78L418.5 373L419.5 373.25L420.5 373.53L421.5 373.83L422.5 374.17L423.5 374.53L424.5 374.93L425.5 375.34L426.5 375.77L427.5 376.21L428.5 376.67L429.5 377.15L430.5 377.64L431.5 378.15L432.5 378.68L433.5 379.23L434.5 379.81L435.5 380.42L436.5 381.04L437.5 381.68L438.5 382.33L439.5 382.98L440.5 383.62L441.5 384.25L442.5 384.85L443.5 385.43L444.5 385.98L445.5 386.53L446.5 387.08L447.5 387.65L448.5 388.25L449.5 388.89L450.5 389.59L451.5 390.36L452.5 391.19L453.5 392.07L454.5 392.99L455.5 393.93L456.5 394.89L457.5 395.84L458.5 396.78L459.5 397.7L460.5 398.56L461.5 399.37L462.5 400.19L463.5 401.07L464.5 402.08L465.5 403.27L466.5 404.65L467.5 406.19L468.5 407.8L469.5 409.43L470.5 411.01L471.5 412.48L472.5 413.85L473.5 415.18L474.5 416.46L475.5 417.69L476.5 418.86L477.5 419.96L478.5 421L479.5 422.01L480.5 422.93L481.5 423.72L482.5 424.31L483.5 424.71L484.5 424.94L485.5 424.99L486.5 424.83L487.5 424.46L488.5 423.84L489.5 423.03L490.5 422.13L491.5 421.15L492.5 420.03L493.5 418.87L494.5 417.95L495.5 417.52L496.5 417.65L497.5 418.11L498.5 418.55L498.6 418.7" stroke="#007957" stroke-width="2.28" fill="none" stroke-linejoin="round" stroke-linecap="butt"/>
<path d="M90.3 331.3L91.3 331.45L92.3 331.6L93.3 331.74L94.3 331.89L95.3 332.04L96.3 332.19L97.3 332.34L98.3 332.49L99.3 332.63L100.3 332.78L101.3 332.93L102.3 333.08L103.3 333.23L104.3 333.37L105.3 333.52L106.3 333.67L107.3 333.82L108.3 333.97L109.3 334.11L110.3 334.26L111.3 334.41L112.3 334.56L113.3 334.71L114.3 334.85L115.3 335L116.3 335.15L117.3 335.3L118.3 335.45L119.3 335.59L120.3 335.74L121.3 335.89L122.3 336.04L123.3 336.19L124.3 336.33L125.3 336.48L126.3 336.63L127.3 336.78L128.3 336.93L129.3 337.07L130.3 337.22L131.3 337.37L132.3 337.52L133.3 337.67L134.3 337.81L135.3 337.96L136.3 338.11L137.3 338.26L138.3 338.41L139.3 338.56L140.3 338.7L141.3 338.85L142.3 339L143.3 339.15L144.3 339.3L145.3 339.44L146.3 339.59L147.3 339.74L148.3 339.89L149.3 340.04L150.3 340.19L151.3 340.33L152.3 340.48L153.3 340.63L154.3 340.78L155.3 340.93L156.3 341.08L157.3 341.22L158.3 341.37L159.3 341.52L160.3 341.67L161.3 341.82L162.3 341.97L163.3 342.11L164.3 342.26L165.3 342.41L166.3 342.56L167.3 342.71L168.3 342.86L169.3 343.01L170.3 343.16L171.3 343.3L172.3 343.45L173.3 343.6L174.3 343.75L175.3 343.9L176.3 344.05L177.3 344.2L178.3 344.35L179.3 344.5L180.3 344.64L181.3 344.79L182.3 344.94L183.3 345.09L184.3 345.24L185.3 345.39L186.3 345.54L187.3 345.69L188.3 345.84L189.3 345.99L190.3 346.14L191.3 346.29L192.3 346.44L193.3 346.59L194.3 346.73L195.3 346.88L196.3 347.03L197.3 347.18L198.3 347.33L199.3 347.48L200.3 347.63L201.3 347.78L202.3 347.93L203.3 348.08L204.3 348.23L205.3 348.38L206.3 348.53L207.3 348.68L208.3 348.83L209.3 348.98L210.3 349.13L211.3 349.28L212.3 349.43L213.3 349.58L214.3 349.73L215.3 349.88L216.3 350.03L217.3 350.18L218.3 350.33L219.3 350.48L220.3 350.63L221.3 350.78L222.3 350.93L223.3 351.08L224.3 351.23L225.3 351.38L226.3 351.53L227.3 351.68L228.3 351.83L229.3 351.98L230.3 352.13L231.3 352.28L232.3 352.43L233.3 352.58L234.3 352.73L235.3 352.88L236.3 353.03L237.3 353.18L238.3 353.33L239.3 353.48L240.3 353.63L241.3 353.78L242.3 353.93L243.3 354.08L244.3 354.23L245.3 354.38L246.3 354.53L247.3 354.68L248.3 354.83L249.3 354.98L250.3 355.13L251.3 355.28L252.3 355.43L253.3 355.58L254.3 355.73L255.3 355.88L256.3 356.03L257.3 356.18L258.3 356.34L259.3 356.49L260.3 356.64L261.3 356.79L262.3 356.94L263.3 357.09L264.3 357.24L265.3 357.39L266.3 357.54L267.3 357.69L268.3 357.84L269.3 357.99L270.3 358.14L271.3 358.29L272.3 358.44L273.3 358.59L274.3 358.74L275.3 358.89L276.3 359.04L277.3 359.19L278.3 359.34L279.3 359.49L280.3 359.65L281.3 359.8L282.3 359.95L283.3 360.1L284.3 360.25L285.3 360.4L286.3 360.56L287.3 360.71L288.3 360.86L289.3 361.02L290.3 361.17L291.3 361.32L292.3 361.48L293.3 361.63L294.3 361.79L295.3 361.94L296.3 362.09L297.3 362.25L298.3 362.4L299.3 362.56L300.3 362.71L301.3 362.86L302.3 363.02L303.3 363.17L304.3 363.33L305.3 363.48L306.3 363.63L307.3 363.79L308.3 363.94L309.3 364.09L310.3 364.24L311.3 364.39L312.3 364.54L313.3 364.7L314.3 364.85L315.3 365L316.3 365.14L317.3 365.29L318.3 365.44L319.3 365.59L320.3 365.74L321.3 365.88L322.3 366.03L323.3 366.17L324.3 366.32L325.3 366.46L326.3 366.6L327.3 366.75L328.3 366.89L329.3 367.03L330.3 367.17L331.3 367.31L332.3 367.45L333.3 367.59L334.3 367.73L335.3 367.88L336.3 368.02L337.3 368.16L338.3 368.3L339.3 368.44L340.3 368.58L341.3 368.72L342.3 368.85L343.3 368.99L344.3 369.13L345.3 369.26L346.3 369.39L347.3 369.52L348.3 369.65L349.3 369.78L350.3 369.9L351.3 370.03L352.3 370.15L353.3 370.26L354.3 370.38L355.3 370.49L356.3 370.6L357.3 370.71L358.3 370.82L359.3 370.92L360.3 371.02L361.3 371.12L362.3 371.22L363.3 371.31L364.3 371.41L365.3 371.5L366.3 371.59L367.3 371.69L368.3 371.78L369.3 371.87L370.3 371.96L371.3 372.05L372.3 372.14L373.3 372.24L374.3 372.33L375.3 372.42L376.3 372.52L377.3 372.61L378.2 372.7" stroke="#00ff00" stroke-width="2.28" fill="none" stroke-linejoin="round" stroke-linecap="butt"/>
<path d="M186.5 376.9L187.5 376.86L188.5 376.81L189.5 376.77L190.5 376.73L191.5 376.68L192.5 376.64L193.5 376.6L194.5 376.55L195.5 376.51L196.5 376.47L197.5 376.42L198.5 376.38L199.5 376.34L200.5 376.29L201.5 376.25L202.5 376.21L203.5 376.16L204.5 376.12L205.5 376.08L206.5 376.03L207.5 375.99L208.5 375.95L209.5 375.9L210.5 375.86L211.5 375.81L212.5 375.77L213.5 375.73L214.5 375.68L215.5 375.64L216.5 375.6L217.5 375.55L218.5 375.51L219.5 375.47L220.5 375.42L221.5 375.38L222.5 375.33L223.5 375.29L224.5 375.24L225.5 375.2L226.5 375.16L227.5 375.11L228.5 375.07L229.5 375.02L230.5 374.98L231.5 374.93L232.5 374.88L233.5 374.84L234.5 374.79L235.5 374.73L236.5 374.68L237.5 374.63L238.5 374.58L239.5 374.52L240.5 374.47L241.5 374.41L242.5 374.36L243.5 374.3L244.5 374.24L245.5 374.19L246.5 374.13L247.5 374.07L248.5 374.02L249.5 373.96L250.5 373.9L251.5 373.85L252.5 373.79L253.5 373.74L254.5 373.68L255.5 373.63L256.5 373.57L257.5 373.52L258.5 373.47L259.5 373.42L260.5 373.37L261.5 373.32L262.5 373.27L263.5 373.22L264.5 373.18L265.5 373.13L266.5 373.09L267.5 373.05L268.5 373.01L269.5 372.97L270.5 372.94L271.5 372.9L272.5 372.87L273.5 372.84L274.5 372.81L275.5 372.79L276.5 372.76L277.5 372.74L278.5 372.72L279.5 372.71L280.5 372.69L281.5 372.68L282.5 372.67L283.5 372.67L284.5 372.66L285.5 372.66L286.5 372.66L287.5 372.66L288.5 372.66L289.5 372.66L290.5 372.67L291.5 372.68L292.5 372.69L293.5 372.7L294.5 372.71L295.5 372.72L296.5 372.74L297.5 372.75L298.5 372.77L299.5 372.79L300.5 372.81L301.5 372.83L302.5 372.85L303.5 372.87L304.5 372.9L305.5 372.92L306.5 372.95L307.5 372.97L308.5 373L309.5 373.03L310.5 373.06L311.5 373.08L312.5 373.11L313.5 373.14L314.5 373.17L315.5 373.2L316.5 373.23L317.5 373.26L318.5 373.29L319.5 373.32L320.5 373.35L321.5 373.38L322.5 373.41L323.5 373.44L324.5 373.47L325.5 373.5L326.5 373.53L327.5 373.56L328.5 373.59L329.5 373.61L330.5 373.64L331.5 373.67L332.5 373.7L333.5 373.73L334.5 373.76L335.5 373.79L336.5 373.83L337.5 373.86L338.5 373.89L339.5 373.93L340.5 373.96L341.5 374L342.5 374.03L343.5 374.07L344.5 374.1L345.5 374.14L346.5 374.18L347.5 374.22L348.5 374.25L349.5 374.29L350.5 374.33L351.5 374.37L352.5 374.41L353.5 374.45L354.5 374.49L355.5 374.53L356.5 374.57L357.5 374.61L358.5 374.65L359.5 374.69L360.5 374.73L361.5 374.77L362.5 374.81L363.5 374.85L364.5 374.89L365.5 374.93L366.5 374.97L367.5 375.01L368.5 375.05L369.5 375.09L370.5 375.13L371.5 375.17L372.5 375.21L373.5 375.25L374.5 375.29L375.5 375.33L376.5 375.37L377.5 375.41L378.5 375.44L379.5 375.48L380.5 375.52L381.5 375.55L382.5 375.59L383.5 375.62L384.5 375.65L385.5 375.68L386.5 375.7L387.5 375.73L388.5 375.75L389.5 375.78L390.5 375.8L391.5 375.82L392.5 375.84L393.5 375.87L394.5 375.89L395.5 375.91L396.5 375.93L397.5 375.96L398.5 375.98L399.5 376L400.5 376.03L401.5 376.06L402.5 376.09L403.5 376.12L404.5 376.15L405.5 376.18L406.5 376.22L407.5 376.26L408.5 376.3L409.5 376.34L410.5 376.39L411.5 376.44L412.5 376.49L413.5 376.54L414.5 376.6L415.5 376.67L416.5 376.73L417.5 376.81L418.5 376.88L419.5 376.96L420.5 377.04L421.5 377.11L422.5 377.17L423.5 377.23L424.5 377.29L425.5 377.35L426.5 377.42L427.5 377.5L428.5 377.59L429.5 377.7L430.5 377.83L431.5 377.99L432.5 378.18L433.5 378.4L434.5 378.66L435.5 378.94L436.5 379.25L437.5 379.57L438.5 379.9L439.5 380.23L440.5 380.56L441.5 380.87L442.5 381.18L443.5 381.47L444.5 381.76L445.5 382.05L446.5 382.34L447.5 382.63L448.5 382.92L449.5 383.22L450.5 383.51L451.5 383.82L452.5 384.14L453.5 384.48L454.5 384.81L455.5 385.15L456.5 385.47L457.5 385.77L458.5 386.04L459.5 386.27L460.5 386.45L461.5 386.6L462.5 386.73L463.5 386.86L464.5 387.02L465.5 387.22L466.5 387.46L467.5 387.73L468.5 388.03L469.5 388.34L470.5 388.65L471.5 388.95L472.5 389.24L473.5 389.49L474.5 389.73L475.5 389.96L476.5 390.17L477.5 390.38L478.5 390.57L479.5 390.75L480.5 390.93L481.5 391.08L482.5 391.23L483.5 391.37L484.5 391.49L485.5 391.6L486.5 391.71L487.5 391.81L488.5 391.91L489.5 391.99L490.5 392.04L491.5 392.08L492.5 392.08L493.5 392.06L494.5 391.99L495.5 391.9L496.5 391.78L497.5 391.64L498.5 391.47L499.5 391.26L500.5 391.02L501.5 390.74L502.5 390.42L503.5 390.04L504.5 389.58L505.5 389.08L506.5 388.54L507.5 387.99L508.5 387.45L509.5 386.93L510.5 386.44L511.5 386L512.5 385.57L513.5 385.14L514.5 384.74L515.5 384.35L516.5 384L517.5 383.69L518.5 383.43L519.5 383.2L520.5 383.01L521.5 382.85L522.5 382.73L523.5 382.68L524.5 382.7L525.5 382.8L526.5 382.95L527.5 383.17L528.5 383.47L529.5 383.85L530.5 384.33L531.5 384.93L532.5 385.64L533.5 386.44L534.5 387.3L535.5 388.19L536.5 389.07L537.5 389.92L538.5 390.78L539.5 391.65L540.5 392.53L541.5 393.42L542.5 394.31L543.5 395.21L544.5 396.12L545.5 397.03L546.5 397.96L547.5 398.89L548.5 399.81L549.5 400.68L550.1 401.3" stroke="#a08dfb" stroke-width="2.28" fill="none" stroke-linejoin="round" stroke-linecap="butt"/>
<path d="M186.5 369.4L187.5 369.37L188.5 369.33L189.5 369.3L190.5 369.27L191.5 369.24L192.5 369.2L193.5 369.17L194.5 369.13L195.5 369.1L196.5 369.06L197.5 369.03L198.5 369L199.5 368.96L200.5 368.93L201.5 368.89L202.5 368.86L203.5 368.82L204.5 368.79L205.5 368.75L206.5 368.72L207.5 368.68L208.5 368.65L209.5 368.62L210.5 368.58L211.5 368.55L212.5 368.52L213.5 368.48L214.5 368.45L215.5 368.42L216.5 368.39L217.5 368.35L218.5 368.32L219.5 368.29L220.5 368.26L221.5 368.23L222.5 368.2L223.5 368.17L224.5 368.15L225.5 368.12L226.5 368.09L227.5 368.06L228.5 368.04L229.5 368.01L230.5 367.99L231.5 367.96L232.5 367.94L233.5 367.91L234.5 367.89L235.5 367.87L236.5 367.84L237.5 367.82L238.5 367.79L239.5 367.77L240.5 367.75L241.5 367.72L242.5 367.7L243.5 367.68L244.5 367.66L245.5 367.63L246.5 367.61L247.5 367.59L248.5 367.57L249.5 367.55L250.5 367.53L251.5 367.51L252.5 367.49L253.5 367.47L254.5 367.45L255.5 367.44L256.5 367.42L257.5 367.4L258.5 367.39L259.5 367.37L260.5 367.35L261.5 367.34L262.5 367.33L263.5 367.31L264.5 367.3L265.5 367.29L266.5 367.28L267.5 367.27L268.5 367.26L269.5 367.25L270.5 367.24L271.5 367.23L272.5 367.22L273.5 367.22L274.5 367.21L275.5 367.21L276.5 367.21L277.5 367.2L278.5 367.2L279.5 367.2L280.5 367.2L281.5 367.2L282.5 367.21L283.5 367.22L284.5 367.23L285.5 367.25L286.5 367.26L287.5 367.28L288.5 367.3L289.5 367.32L290.5 367.35L291.5 367.37L292.5 367.4L293.5 367.42L294.5 367.45L295.5 367.47L296.5 367.5L297.5 367.52L298.5 367.54L299.5 367.57L300.5 367.59L301.5 367.61L302.5 367.62L303.5 367.64L304.5 367.65L305.5 367.67L306.5 367.67L307.5 367.68L308.5 367.68L309.5 367.68L310.5 367.67L311.5 367.67L312.5 367.65L313.5 367.63L314.5 367.61L315.5 367.58L316.5 367.55L317.5 367.51L318.5 367.47L319.5 367.43L320.5 367.38L321.5 367.33L322.5 367.28L323.5 367.23L324.5 367.19L325.5 367.14L326.5 367.09L327.5 367.05L328.5 367.02L329.5 366.99L330.5 366.97L331.5 366.96L332.5 366.96L333.5 366.97L334.5 366.99L335.5 367.01L336.5 367.03L337.5 367.06L338.5 367.09L339.5 367.12L340.5 367.14L341.5 367.17L342.5 367.19L343.5 367.2L344.5 367.21L345.5 367.21L346.5 367.19L347.5 367.17L348.5 367.13L349.5 367.08L350.5 367.02L351.5 366.93L352.5 366.83L353.5 366.71L354.5 366.56L355.5 366.39L356.5 366.2L357.5 366L358.5 365.78L359.5 365.56L360.5 365.34L361.5 365.13L362.5 364.93L363.5 364.75L364.5 364.59L365.5 364.46L366.5 364.34L367.5 364.25L368.5 364.18L369.5 364.12L370.5 364.07L371.5 364.03L372.5 363.99L373.5 363.95L374.5 363.92L375.5 363.87L376.5 363.82L377.5 363.75L378.5 363.67L379.5 363.58L380.5 363.49L381.5 363.39L382.5 363.29L383.5 363.18L384.5 363.07L385.5 362.96L386.5 362.85L387.5 362.73L388.5 362.62L389.5 362.52L390.5 362.41L391.5 362.29L392.5 362.15L393.5 362.01L394.5 361.86L395.5 361.72L396.5 361.61L397.5 361.53L398.5 361.49L399.5 361.49L400.5 361.48L401.5 361.51L402.5 361.75L403.5 362.39L404.5 363.41L405.5 364.65L406.5 365.9" stroke="#6237e2" stroke-width="2.28" fill="none" stroke-linejoin="round" stroke-linecap="butt"/>
<path d="M186.5 377.5L187.5 377.47L188.5 377.45L189.5 377.42L190.5 377.4L191.5 377.38L192.5 377.35L193.5 377.33L194.5 377.3L195.5 377.28L196.5 377.25L197.5 377.23L198.5 377.21L199.5 377.18L200.5 377.16L201.5 377.13L202.5 377.11L203.5 377.09L204.5 377.06L205.5 377.04L206.5 377.01L207.5 376.99L208.5 376.97L209.5 376.94L210.5 376.92L211.5 376.89L212.5 376.87L213.5 376.84L214.5 376.82L215.5 376.79L216.5 376.77L217.5 376.74L218.5 376.72L219.5 376.69L220.5 376.66L221.5 376.64L222.5 376.61L223.5 376.58L224.5 376.56L225.5 376.53L226.5 376.5L227.5 376.47L228.5 376.44L229.5 376.41L230.5 376.38L231.5 376.35L232.5 376.32L233.5 376.29L234.5 376.26L235.5 376.22L236.5 376.19L237.5 376.15L238.5 376.11L239.5 376.07L240.5 376.03L241.5 376L242.5 375.96L243.5 375.92L244.5 375.87L245.5 375.83L246.5 375.79L247.5 375.75L248.5 375.71L249.5 375.67L250.5 375.63L251.5 375.58L252.5 375.54L253.5 375.5L254.5 375.46L255.5 375.42L256.5 375.38L257.5 375.34L258.5 375.3L259.5 375.26L260.5 375.22L261.5 375.19L262.5 375.15L263.5 375.11L264.5 375.08L265.5 375.04L266.5 375.01L267.5 374.98L268.5 374.95L269.5 374.92L270.5 374.89L271.5 374.86L272.5 374.84L273.5 374.81L274.5 374.79L275.5 374.77L276.5 374.75L277.5 374.74L278.5 374.72L279.5 374.71L280.5 374.69L281.5 374.68L282.5 374.68L283.5 374.67L284.5 374.66L285.5 374.66L286.5 374.66L287.5 374.65L288.5 374.65L289.5 374.65L290.5 374.66L291.5 374.66L292.5 374.66L293.5 374.67L294.5 374.67L295.5 374.68L296.5 374.69L297.5 374.7L298.5 374.71L299.5 374.72L300.5 374.73L301.5 374.74L302.5 374.75L303.5 374.77L304.5 374.78L305.5 374.8L306.5 374.81L307.5 374.83L308.5 374.84L309.5 374.86L310.5 374.88L311.5 374.89L312.5 374.91L313.5 374.93L314.5 374.95L315.5 374.96L316.5 374.98L317.5 375L318.5 375.02L319.5 375.04L320.5 375.05L321.5 375.07L322.5 375.09L323.5 375.11L324.5 375.13L325.5 375.14L326.5 375.16L327.5 375.18L328.5 375.19L329.5 375.21L330.5 375.22L331.5 375.24L332.5 375.26L333.5 375.27L334.5 375.29L335.5 375.3L336.5 375.32L337.5 375.34L338.5 375.35L339.5 375.37L340.5 375.38L341.5 375.4L342.5 375.42L343.5 375.44L344.5 375.45L345.5 375.47L346.5 375.49L347.5 375.51L348.5 375.52L349.5 375.54L350.5 375.56L351.5 375.58L352.5 375.6L353.5 375.62L354.5 375.64L355.5 375.66L356.5 375.68L357.5 375.7L358.5 375.72L359.5 375.74L360.5 375.77L361.5 375.79L362.5 375.81L363.5 375.83L364.5 375.86L365.5 375.88L366.5 375.91L367.5 375.93L368.5 375.96L369.5 375.99L370.5 376.01L371.5 376.04L372.5 376.07L373.5 376.1L374.5 376.13L375.5 376.16L376.5 376.19L377.5 376.22L378.5 376.25L379.5 376.28L380.5 376.31L381.5 376.34L382.5 376.36L383.5 376.38L384.5 376.39L385.5 376.4L386.5 376.41L387.5 376.41L388.5 376.41L389.5 376.41L390.5 376.41L391.5 376.4L392.5 376.4L393.5 376.4L394.5 376.39L395.5 376.39L396.5 376.39L397.5 376.39L398.5 376.39L399.5 376.4L400.5 376.41L401.5 376.42L402.5 376.44L403.5 376.46L404.5 376.49L405.5 376.53L406.5 376.57L407.5 376.62L408.5 376.67L409.5 376.73L410.5 376.81L411.5 376.89L412.5 376.98L413.5 377.08L414.5 377.19L415.5 377.31L416.5 377.44L417.5 377.59L418.5 377.74L419.5 377.91L420.5 378.09L421.5 378.26L422.5 378.43L423.5 378.6L424.5 378.77L425.5 378.95L426.5 379.14L427.5 379.35L428.5 379.58L429.5 379.83L430.5 380.11L431.5 380.43L432.5 380.78L433.5 381.17L434.5 381.59L435.5 382.05L436.5 382.53L437.5 383.04L438.5 383.56L439.5 384.11L440.5 384.68L441.5 385.26L442.5 385.86L443.5 386.45L444.5 387.06L445.5 387.68L446.5 388.33L447.5 389.01L448.5 389.73L449.5 390.51L450.5 391.35L451.5 392.26L452.5 393.24L453.5 394.28L454.5 395.37L455.5 396.5L456.5 397.66L457.5 398.83L458.5 400.01L459.5 401.18L460.5 402.35L461.5 403.52L462.5 404.71L463.5 405.93L464.5 407.21L465.5 408.54L466.5 409.91L467.5 411.33L468.5 412.82L469.5 414.38L470.5 416.01L471.5 417.66L472.5 419.25L472.9 420" stroke="#6caa72" stroke-width="2.28" fill="none" stroke-linejoin="round" stroke-linecap="butt"/>
<path d="M186.5 369.2L187.5 369.17L188.5 369.13L189.5 369.1L190.5 369.07L191.5 369.04L192.5 369L193.5 368.97L194.5 368.93L195.5 368.9L196.5 368.86L197.5 368.83L198.5 368.8L199.5 368.76L200.5 368.73L201.5 368.69L202.5 368.66L203.5 368.62L204.5 368.59L205.5 368.55L206.5 368.52L207.5 368.48L208.5 368.45L209.5 368.42L210.5 368.38L211.5 368.35L212.5 368.32L213.5 368.28L214.5 368.25L215.5 368.22L216.5 368.19L217.5 368.15L218.5 368.12L219.5 368.09L220.5 368.06L221.5 368.03L222.5 368L223.5 367.97L224.5 367.95L225.5 367.92L226.5 367.89L227.5 367.86L228.5 367.84L229.5 367.81L230.5 367.79L231.5 367.76L232.5 367.74L233.5 367.71L234.5 367.68L235.5 367.66L236.5 367.63L237.5 367.6L238.5 367.58L239.5 367.55L240.5 367.52L241.5 367.5L242.5 367.47L243.5 367.44L244.5 367.42L245.5 367.39L246.5 367.36L247.5 367.34L248.5 367.31L249.5 367.29L250.5 367.26L251.5 367.24L252.5 367.22L253.5 367.19L254.5 367.17L255.5 367.15L256.5 367.13L257.5 367.11L258.5 367.09L259.5 367.07L260.5 367.06L261.5 367.04L262.5 367.03L263.5 367.01L264.5 367L265.5 366.99L266.5 366.98L267.5 366.97L268.5 366.96L269.5 366.96L270.5 366.95L271.5 366.95L272.5 366.95L273.5 366.95L274.5 366.95L275.5 366.96L276.5 366.96L277.5 366.97L278.5 366.98L279.5 366.99L280.5 367.01L281.5 367.02L282.5 367.04L283.5 367.06L284.5 367.09L285.5 367.11L286.5 367.14L287.5 367.17L288.5 367.2L289.5 367.23L290.5 367.27L291.5 367.31L292.5 367.34L293.5 367.38L294.5 367.42L295.5 367.47L296.5 367.51L297.5 367.56L298.5 367.6L299.5 367.65L300.5 367.7L301.5 367.75L302.5 367.8L303.5 367.85L304.5 367.9L305.5 367.95L306.5 368L307.5 368.05L308.5 368.11L309.5 368.16L310.5 368.21L311.5 368.26L312.5 368.32L313.5 368.37L314.5 368.42L315.5 368.47L316.5 368.52L317.5 368.57L318.5 368.63L319.5 368.68L320.5 368.72L321.5 368.77L322.5 368.82L323.5 368.87L324.5 368.91L325.5 368.96L326.5 369L327.5 369.04L328.5 369.08L329.5 369.12L330.5 369.16L331.5 369.2L332.5 369.24L333.5 369.28L334.5 369.32L335.5 369.36L336.5 369.4L337.5 369.44L338.5 369.48L339.5 369.52L340.5 369.56L341.5 369.6L342.5 369.64L343.5 369.68L344.5 369.71L345.5 369.75L346.5 369.78L347.5 369.82L348.5 369.85L349.5 369.88L350.5 369.91L351.5 369.94L352.5 369.97L353.5 370L354.5 370.02L355.5 370.05L356.5 370.09L357.5 370.12L358.5 370.15L359.5 370.19L360.5 370.22L361.5 370.25L362.5 370.28L363.5 370.31L364.5 370.33L365.5 370.35L366.5 370.36L367.5 370.37L368.5 370.36L369.5 370.35L370.5 370.33L371.5 370.31L372.5 370.29L373.5 370.28L374.5 370.29L375.5 370.29L376.5 370.26L377.5 370.2L378.5 370.09L379.5 369.9L380.5 369.62L381.5 369.26L382.5 368.83L383.5 368.39L384.5 367.99L385.5 367.65L386.5 367.38L387.5 367.14L388.5 366.95L389.5 366.84L390.5 366.82L391.5 366.89L392.5 367.04L393.5 367.27L394.5 367.6L395.5 368.03L396.5 368.57L397.5 369.22L398.5 369.98L399.5 370.81L400.5 371.71L401.5 372.67L402.5 373.55L402.7 373.9" stroke="#815f00" stroke-width="2.28" fill="none" stroke-linejoin="round" stroke-linecap="butt"/>
<path d="M186.5 371.4L187.5 371.37L188.5 371.35L189.5 371.32L190.5 371.3L191.5 371.27L192.5 371.25L193.5 371.22L194.5 371.19L195.5 371.17L196.5 371.14L197.5 371.11L198.5 371.09L199.5 371.06L200.5 371.03L201.5 371.01L202.5 370.98L203.5 370.95L204.5 370.93L205.5 370.9L206.5 370.87L207.5 370.85L208.5 370.82L209.5 370.79L210.5 370.77L211.5 370.74L212.5 370.72L213.5 370.69L214.5 370.66L215.5 370.64L216.5 370.61L217.5 370.59L218.5 370.56L219.5 370.54L220.5 370.52L221.5 370.49L222.5 370.47L223.5 370.44L224.5 370.42L225.5 370.4L226.5 370.38L227.5 370.35L228.5 370.33L229.5 370.31L230.5 370.29L231.5 370.27L232.5 370.24L233.5 370.22L234.5 370.2L235.5 370.17L236.5 370.15L237.5 370.12L238.5 370.1L239.5 370.07L240.5 370.04L241.5 370.02L242.5 369.99L243.5 369.96L244.5 369.93L245.5 369.91L246.5 369.88L247.5 369.85L248.5 369.83L249.5 369.8L250.5 369.77L251.5 369.75L252.5 369.72L253.5 369.7L254.5 369.68L255.5 369.65L256.5 369.63L257.5 369.61L258.5 369.59L259.5 369.57L260.5 369.55L261.5 369.53L262.5 369.52L263.5 369.5L264.5 369.49L265.5 369.48L266.5 369.47L267.5 369.46L268.5 369.45L269.5 369.44L270.5 369.44L271.5 369.44L272.5 369.44L273.5 369.44L274.5 369.44L275.5 369.45L276.5 369.46L277.5 369.47L278.5 369.48L279.5 369.49L280.5 369.51L281.5 369.53L282.5 369.55L283.5 369.57L284.5 369.6L285.5 369.62L286.5 369.65L287.5 369.68L288.5 369.71L289.5 369.75L290.5 369.78L291.5 369.82L292.5 369.86L293.5 369.9L294.5 369.94L295.5 369.98L296.5 370.03L297.5 370.07L298.5 370.12L299.5 370.17L300.5 370.21L301.5 370.26L302.5 370.32L303.5 370.37L304.5 370.42L305.5 370.48L306.5 370.53L307.5 370.59L308.5 370.64L309.5 370.7L310.5 370.76L311.5 370.82L312.5 370.88L313.5 370.94L314.5 371L315.5 371.06L316.5 371.12L317.5 371.18L318.5 371.24L319.5 371.3L320.5 371.37L321.5 371.43L322.5 371.49L323.5 371.55L324.5 371.62L325.5 371.68L326.5 371.74L327.5 371.81L328.5 371.87L329.5 371.93L330.5 372L331.5 372.06L332.5 372.13L333.5 372.2L334.5 372.27L335.5 372.34L336.5 372.41L337.5 372.48L338.5 372.56L339.5 372.63L340.5 372.71L341.5 372.78L342.5 372.85L343.5 372.93L344.5 373L345.5 373.07L346.5 373.14L347.5 373.21L348.5 373.28L349.5 373.34L350.5 373.41L351.5 373.47L352.5 373.53L353.5 373.59L354.5 373.65L355.5 373.71L356.5 373.76L357.5 373.81L358.5 373.86L359.5 373.91L360.5 373.95L361.5 374L362.5 374.04L363.5 374.09L364.5 374.13L365.5 374.17L366.5 374.22L367.5 374.26L368.5 374.3L369.5 374.34L370.5 374.38L371.5 374.42L372.5 374.46L373.5 374.51L374.5 374.55L375.5 374.59L376.5 374.64L377.5 374.68L378.5 374.73L379.5 374.78L380.5 374.82L381.5 374.88L382.5 374.93L383.5 374.98L384.5 375.03L385.5 375.09L386.5 375.14L387.5 375.19L388.5 375.25L389.5 375.3L390.5 375.36L391.5 375.42L392.5 375.47L393.5 375.53L394.5 375.58L395.5 375.64L396.5 375.69L397.5 375.75L398.5 375.8L399.5 375.86L400.5 375.91L401.5 375.96L402.5 376.01L403.5 376.06L404.5 376.11L405.5 376.15L406.5 376.2L407.5 376.23L408.5 376.26L409.5 376.27L410.5 376.27L411.5 376.26L412.5 376.26L413.5 376.25L414.5 376.24L415.5 376.24L416.5 376.25L417.5 376.27L418.5 376.3L419.5 376.35L420.5 376.43L421.5 376.52L422.5 376.64L423.5 376.79L424.5 376.96L425.5 377.16L426.5 377.37L427.5 377.61L428.5 377.86L429.5 378.12L430.5 378.4L431.5 378.7L432.5 379.01L433.5 379.33L434.5 379.67L435.5 380.02L436.5 380.38L437.5 380.76L438.5 381.16L439.5 381.59L440.5 382.03L441.5 382.51L442.5 383.01L443.5 383.54L444.5 384.1L445.5 384.67L446.5 385.27L447.5 385.9L448.5 386.54L449.5 387.21L450.5 387.9L451.5 388.61L452.5 389.36L453.5 390.13L454.5 390.93L455.5 391.74L456.5 392.57L457.5 393.39L458.5 394.21L459.5 395.01L460.5 395.78L461.5 396.53L462.5 397.28L463.5 398.08L464.5 398.95L465.5 399.92L466.5 400.98L467.5 402.11L468.5 403.31L469.5 404.59L470.5 405.94L471.5 407.36L472.5 408.86L473.5 410.41L474.5 412.01L475.5 413.64L476.5 415.3L477.5 417.09L478.5 419.1L479.5 421.31L480.5 423.6" stroke="#430079" stroke-width="2.28" fill="none" stroke-linejoin="round" stroke-linecap="butt"/>
</svg>
</body></html>
